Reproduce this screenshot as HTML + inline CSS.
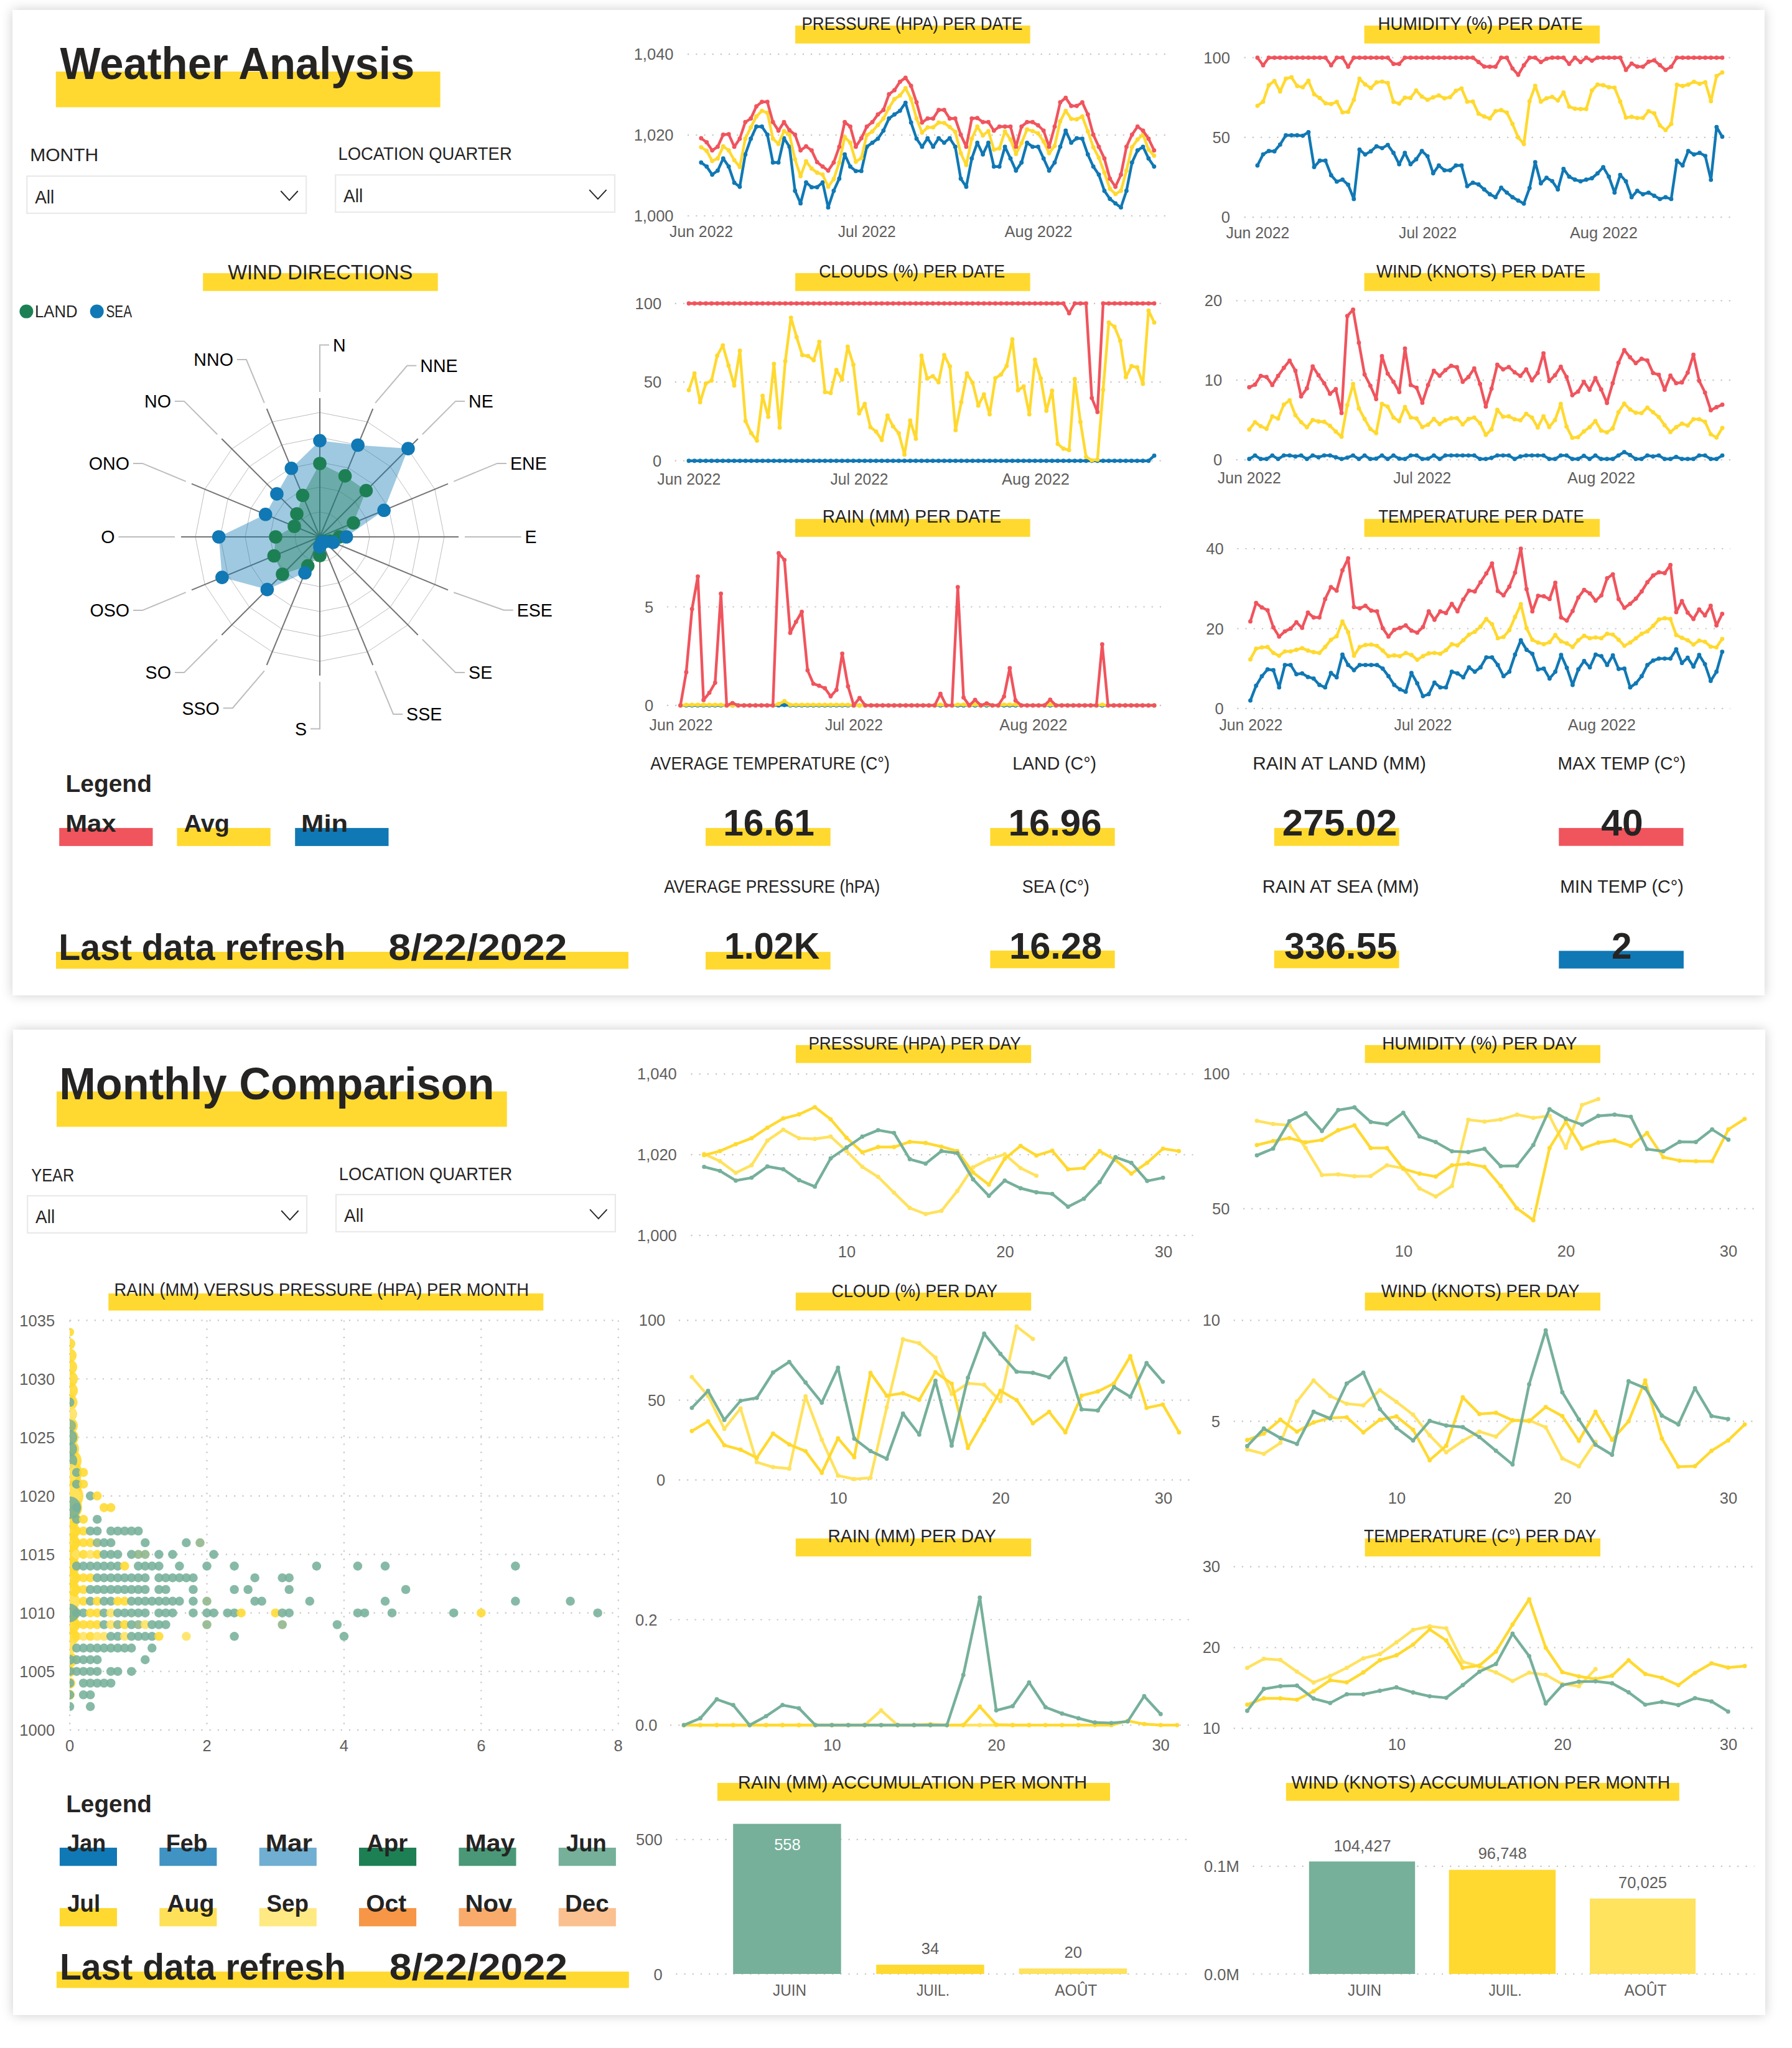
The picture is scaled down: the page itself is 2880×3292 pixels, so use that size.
<!DOCTYPE html>
<html><head><meta charset="utf-8"><title>Weather Analysis</title>
<style>
html,body{margin:0;padding:0;background:#fff;}
body{width:2880px;height:3292px;position:relative;overflow:hidden;font-family:"Liberation Sans",sans-serif;}
.card{position:absolute;background:#fff;box-shadow:0 0 18px rgba(0,0,0,.2);}
#c1{left:20px;top:16px;width:2816px;height:1584px;}
#c2{left:21px;top:1655px;width:2816px;height:1584px;}
svg{position:absolute;left:0;top:0;}
svg text{font-family:"Liberation Sans",sans-serif;}
.g{stroke:#C8C6C4;stroke-width:2.2;stroke-dasharray:2.2 11;fill:none;}
</style></head><body>
<div class="card" id="c1"></div><div class="card" id="c2"></div>
<svg width="2880" height="3292" viewBox="0 0 2880 3292">
<defs><clipPath id="scclip"><rect x="112.1" y="2100" width="900" height="700"/></clipPath></defs>
<rect x="89.8" y="115.0" width="617.8" height="57.4" fill="#FFD92F"/>
<text x="96.5" y="127.2" font-size="72.5" font-weight="bold" fill="#252423" textLength="569.7" lengthAdjust="spacingAndGlyphs">Weather Analysis</text>
<text x="48.2" y="259.1" font-size="29.4" font-weight="normal" fill="#252423" textLength="110.0" lengthAdjust="spacingAndGlyphs">MONTH</text>
<text x="543.4" y="257.4" font-size="30.1" font-weight="normal" fill="#252423" textLength="279.3" lengthAdjust="spacingAndGlyphs">LOCATION QUARTER</text>
<rect x="43.30" y="283.10" width="448.80" height="59.70" fill="#fff" stroke="#E9E9E9" stroke-width="2.2"/>
<text x="56.2" y="326.9" font-size="29.7" font-weight="normal" fill="#252423" textLength="31.1" lengthAdjust="spacingAndGlyphs">All</text>
<polyline points="451.3,307.0 465.0,321.8 478.7,307.0" fill="none" stroke="#252423" stroke-width="1.9"/>
<rect x="539.20" y="281.20" width="448.80" height="59.70" fill="#fff" stroke="#E9E9E9" stroke-width="2.2"/>
<text x="552.1" y="325.0" font-size="29.7" font-weight="normal" fill="#252423" textLength="31.1" lengthAdjust="spacingAndGlyphs">All</text>
<polyline points="947.2,305.1 960.9,319.9 974.6,305.1" fill="none" stroke="#252423" stroke-width="1.9"/>
<rect x="326.2" y="439.1" width="377.5" height="28.6" fill="#FFD92F"/>
<text x="366.3" y="448.8" font-size="33.3" font-weight="normal" fill="#252423" textLength="297.0" lengthAdjust="spacingAndGlyphs">WIND DIRECTIONS</text>
<circle cx="42.4" cy="500.6" r="11" fill="#1D8054"/><circle cx="155.7" cy="500.6" r="11" fill="#1078B4"/>
<text x="56.0" y="510.0" font-size="27.2" font-weight="normal" fill="#252423" textLength="68.5" lengthAdjust="spacingAndGlyphs">LAND</text>
<text x="170.5" y="510.0" font-size="27.2" font-weight="normal" fill="#252423" textLength="41.6" lengthAdjust="spacingAndGlyphs">SEA</text>
<polygon fill="none" stroke="#BDBDBD" stroke-width="1" points="514.0,823.0 529.3,826.0 542.3,834.7 551.0,847.7 554.0,863.0 551.0,878.3 542.3,891.3 529.3,900.0 514.0,903.0 498.7,900.0 485.7,891.3 477.0,878.3 474.0,863.0 477.0,847.7 485.7,834.7 498.7,826.0"/>
<polygon fill="none" stroke="#BDBDBD" stroke-width="1" points="514.0,783.0 544.6,789.1 570.6,806.4 587.9,832.4 594.0,863.0 587.9,893.6 570.6,919.6 544.6,936.9 514.0,943.0 483.4,936.9 457.4,919.6 440.1,893.6 434.0,863.0 440.1,832.4 457.4,806.4 483.4,789.1"/>
<polygon fill="none" stroke="#BDBDBD" stroke-width="1" points="514.0,743.0 559.9,752.1 598.9,778.1 624.9,817.1 634.0,863.0 624.9,908.9 598.9,947.9 559.9,973.9 514.0,983.0 468.1,973.9 429.1,947.9 403.1,908.9 394.0,863.0 403.1,817.1 429.1,778.1 468.1,752.1"/>
<polygon fill="none" stroke="#BDBDBD" stroke-width="1" points="514.0,703.0 575.2,715.2 627.1,749.9 661.8,801.8 674.0,863.0 661.8,924.2 627.1,976.1 575.2,1010.8 514.0,1023.0 452.8,1010.8 400.9,976.1 366.2,924.2 354.0,863.0 366.2,801.8 400.9,749.9 452.8,715.2"/>
<polygon fill="none" stroke="#BDBDBD" stroke-width="1" points="514.0,663.0 590.5,678.2 655.4,721.6 698.8,786.5 714.0,863.0 698.8,939.5 655.4,1004.4 590.5,1047.8 514.0,1063.0 437.5,1047.8 372.6,1004.4 329.2,939.5 314.0,863.0 329.2,786.5 372.6,721.6 437.5,678.2"/>
<line x1="514" y1="863" x2="514.0" y2="640.0" stroke="#747474" stroke-width="2"/>
<line x1="514" y1="863" x2="599.3" y2="657.0" stroke="#747474" stroke-width="2"/>
<line x1="514" y1="863" x2="671.7" y2="705.3" stroke="#747474" stroke-width="2"/>
<line x1="514" y1="863" x2="720.0" y2="777.7" stroke="#747474" stroke-width="2"/>
<line x1="514" y1="863" x2="737.0" y2="863.0" stroke="#747474" stroke-width="2"/>
<line x1="514" y1="863" x2="720.0" y2="948.3" stroke="#747474" stroke-width="2"/>
<line x1="514" y1="863" x2="671.7" y2="1020.7" stroke="#747474" stroke-width="2"/>
<line x1="514" y1="863" x2="599.3" y2="1069.0" stroke="#747474" stroke-width="2"/>
<line x1="514" y1="863" x2="514.0" y2="1086.0" stroke="#747474" stroke-width="2"/>
<line x1="514" y1="863" x2="428.7" y2="1069.0" stroke="#747474" stroke-width="2"/>
<line x1="514" y1="863" x2="356.3" y2="1020.7" stroke="#747474" stroke-width="2"/>
<line x1="514" y1="863" x2="308.0" y2="948.3" stroke="#747474" stroke-width="2"/>
<line x1="514" y1="863" x2="291.0" y2="863.0" stroke="#747474" stroke-width="2"/>
<line x1="514" y1="863" x2="308.0" y2="777.7" stroke="#747474" stroke-width="2"/>
<line x1="514" y1="863" x2="356.3" y2="705.3" stroke="#747474" stroke-width="2"/>
<line x1="514" y1="863" x2="428.7" y2="657.0" stroke="#747474" stroke-width="2"/>
<polyline fill="none" stroke="#BDBDBD" stroke-width="2" points="514.0,630.0 514.0,554.5 529.0,554.5"/>
<text x="535.0" y="564.8" font-size="28.6" fill="#000" text-anchor="start">N</text>
<polyline fill="none" stroke="#BDBDBD" stroke-width="2" points="603.2,647.7 654.3,587.8 669.3,587.8"/>
<text x="675.3" y="598.1" font-size="28.6" fill="#000" text-anchor="start">NNE</text>
<polyline fill="none" stroke="#BDBDBD" stroke-width="2" points="678.8,698.2 732.1,644.9 747.1,644.9"/>
<text x="753.1" y="655.2" font-size="28.6" fill="#000" text-anchor="start">NE</text>
<polyline fill="none" stroke="#BDBDBD" stroke-width="2" points="729.3,773.8 799.0,744.9 814.0,744.9"/>
<text x="820.0" y="755.2" font-size="28.6" fill="#000" text-anchor="start">ENE</text>
<polyline fill="none" stroke="#BDBDBD" stroke-width="2" points="747.0,863.0 822.5,863.0 837.5,863.0"/>
<text x="843.5" y="873.3" font-size="28.6" fill="#000" text-anchor="start">E</text>
<polyline fill="none" stroke="#BDBDBD" stroke-width="2" points="729.3,952.2 809.7,980.8 824.7,980.8"/>
<text x="830.7" y="991.1" font-size="28.6" fill="#000" text-anchor="start">ESE</text>
<polyline fill="none" stroke="#BDBDBD" stroke-width="2" points="678.8,1027.8 732.1,1081.1 747.1,1081.1"/>
<text x="753.1" y="1091.4" font-size="28.6" fill="#000" text-anchor="start">SE</text>
<polyline fill="none" stroke="#BDBDBD" stroke-width="2" points="603.2,1078.3 632.1,1148.0 647.1,1148.0"/>
<text x="653.1" y="1158.3" font-size="28.6" fill="#000" text-anchor="start">SSE</text>
<polyline fill="none" stroke="#BDBDBD" stroke-width="2" points="514.0,1096.0 514.0,1171.5 499.0,1171.5"/>
<text x="493.0" y="1181.8" font-size="28.6" fill="#000" text-anchor="end">S</text>
<polyline fill="none" stroke="#BDBDBD" stroke-width="2" points="424.8,1078.3 373.8,1138.2 358.8,1138.2"/>
<text x="352.8" y="1148.5" font-size="28.6" fill="#000" text-anchor="end">SSO</text>
<polyline fill="none" stroke="#BDBDBD" stroke-width="2" points="349.2,1027.8 295.9,1081.1 280.9,1081.1"/>
<text x="274.9" y="1091.4" font-size="28.6" fill="#000" text-anchor="end">SO</text>
<polyline fill="none" stroke="#BDBDBD" stroke-width="2" points="298.7,952.2 229.0,981.1 214.0,981.1"/>
<text x="208.0" y="991.4" font-size="28.6" fill="#000" text-anchor="end">OSO</text>
<polyline fill="none" stroke="#BDBDBD" stroke-width="2" points="281.0,863.0 205.5,863.0 190.5,863.0"/>
<text x="184.5" y="873.3" font-size="28.6" fill="#000" text-anchor="end">O</text>
<polyline fill="none" stroke="#BDBDBD" stroke-width="2" points="298.7,773.8 229.0,744.9 214.0,744.9"/>
<text x="208.0" y="755.2" font-size="28.6" fill="#000" text-anchor="end">ONO</text>
<polyline fill="none" stroke="#BDBDBD" stroke-width="2" points="349.2,698.2 295.9,644.9 280.9,644.9"/>
<text x="274.9" y="655.2" font-size="28.6" fill="#000" text-anchor="end">NO</text>
<polyline fill="none" stroke="#BDBDBD" stroke-width="2" points="424.8,647.7 395.9,578.0 380.9,578.0"/>
<text x="374.9" y="588.3" font-size="28.6" fill="#000" text-anchor="end">NNO</text>
<polygon fill="#1078B4" fill-opacity=".4" points="514.0,708.3 575.1,715.5 655.9,721.1 617.1,820.3 556.7,863.0 535.5,871.9 521.8,870.8 517.4,871.3 514.0,878.7 490.0,920.8 429.4,947.6 356.9,928.1 351.7,863.0 426.7,826.8 444.9,793.9 468.3,752.8"/>
<polygon fill="#1D8054" fill-opacity=".4" points="514.0,745.0 554.6,764.9 588.4,788.6 568.0,840.6 545.4,863.0 530.6,869.9 521.1,870.1 517.1,870.4 514.0,893.0 494.7,909.6 454.0,923.0 440.4,893.5 443.0,863.0 473.0,846.0 477.0,826.0 486.4,796.3"/>
<circle cx="514.0" cy="745.0" r="10.8" fill="#1D8054"/>
<circle cx="554.6" cy="764.9" r="10.8" fill="#1D8054"/>
<circle cx="588.4" cy="788.6" r="10.8" fill="#1D8054"/>
<circle cx="568.0" cy="840.6" r="10.8" fill="#1D8054"/>
<circle cx="545.4" cy="863.0" r="10.8" fill="#1D8054"/>
<circle cx="530.6" cy="869.9" r="10.8" fill="#1D8054"/>
<circle cx="521.1" cy="870.1" r="10.8" fill="#1D8054"/>
<circle cx="517.1" cy="870.4" r="10.8" fill="#1D8054"/>
<circle cx="514.0" cy="893.0" r="10.8" fill="#1D8054"/>
<circle cx="494.7" cy="909.6" r="10.8" fill="#1D8054"/>
<circle cx="454.0" cy="923.0" r="10.8" fill="#1D8054"/>
<circle cx="440.4" cy="893.5" r="10.8" fill="#1D8054"/>
<circle cx="443.0" cy="863.0" r="10.8" fill="#1D8054"/>
<circle cx="473.0" cy="846.0" r="10.8" fill="#1D8054"/>
<circle cx="477.0" cy="826.0" r="10.8" fill="#1D8054"/>
<circle cx="486.4" cy="796.3" r="10.8" fill="#1D8054"/>
<circle cx="514.0" cy="708.3" r="10.8" fill="#1078B4"/>
<circle cx="575.1" cy="715.5" r="10.8" fill="#1078B4"/>
<circle cx="655.9" cy="721.1" r="10.8" fill="#1078B4"/>
<circle cx="617.1" cy="820.3" r="10.8" fill="#1078B4"/>
<circle cx="556.7" cy="863.0" r="10.8" fill="#1078B4"/>
<circle cx="535.5" cy="871.9" r="10.8" fill="#1078B4"/>
<circle cx="521.8" cy="870.8" r="10.8" fill="#1078B4"/>
<circle cx="517.4" cy="871.3" r="10.8" fill="#1078B4"/>
<circle cx="514.0" cy="878.7" r="10.8" fill="#1078B4"/>
<circle cx="490.0" cy="920.8" r="10.8" fill="#1078B4"/>
<circle cx="429.4" cy="947.6" r="10.8" fill="#1078B4"/>
<circle cx="356.9" cy="928.1" r="10.8" fill="#1078B4"/>
<circle cx="351.7" cy="863.0" r="10.8" fill="#1078B4"/>
<circle cx="426.7" cy="826.8" r="10.8" fill="#1078B4"/>
<circle cx="444.9" cy="793.9" r="10.8" fill="#1078B4"/>
<circle cx="468.3" cy="752.8" r="10.8" fill="#1078B4"/>
<text x="105.4" y="1272.9" font-size="39.5" font-weight="bold" fill="#252423" textLength="138.6" lengthAdjust="spacingAndGlyphs">Legend</text>
<rect x="95.2" y="1330.9" width="150.3" height="29.0" fill="#F0545D"/>
<rect x="284.4" y="1330.9" width="150.3" height="29.0" fill="#FFD92F"/>
<rect x="474.2" y="1330.9" width="150.3" height="29.0" fill="#1078B4"/>
<text x="105.2" y="1336.7" font-size="39.5" font-weight="bold" fill="#252423" textLength="81.4" lengthAdjust="spacingAndGlyphs">Max</text>
<text x="295.6" y="1336.7" font-size="39.5" font-weight="bold" fill="#252423" textLength="73.2" lengthAdjust="spacingAndGlyphs">Avg</text>
<text x="484.1" y="1336.7" font-size="39.5" font-weight="bold" fill="#252423" textLength="75.2" lengthAdjust="spacingAndGlyphs">Min</text>
<rect x="90.0" y="1530.0" width="920.0" height="27.2" fill="#FFD92F"/>
<text x="94.3" y="1542.7" font-size="59.9" font-weight="bold" fill="#252423" textLength="461.2" lengthAdjust="spacingAndGlyphs">Last data refresh</text>
<text x="624.3" y="1542.7" font-size="59.9" font-weight="bold" fill="#252423" textLength="287.2" lengthAdjust="spacingAndGlyphs">8/22/2022</text>
<line x1="1105.0" y1="87.2" x2="1873.8" y2="87.2" class="g"/>
<text x="1082.5" y="96.2" font-size="25.5" font-weight="normal" fill="#605E5C" text-anchor="end">1,040</text>
<line x1="1105.0" y1="217.1" x2="1873.8" y2="217.1" class="g"/>
<text x="1082.5" y="226.1" font-size="25.5" font-weight="normal" fill="#605E5C" text-anchor="end">1,020</text>
<line x1="1105.0" y1="347.0" x2="1873.8" y2="347.0" class="g"/>
<text x="1082.5" y="356.0" font-size="25.5" font-weight="normal" fill="#605E5C" text-anchor="end">1,000</text>
<text x="1127.0" y="380.8" font-size="25.5" font-weight="normal" fill="#605E5C" text-anchor="middle" textLength="102.0" lengthAdjust="spacingAndGlyphs">Jun 2022</text>
<text x="1393.3" y="380.8" font-size="25.5" font-weight="normal" fill="#605E5C" text-anchor="middle" textLength="93.0" lengthAdjust="spacingAndGlyphs">Jul 2022</text>
<text x="1669.0" y="380.8" font-size="25.5" font-weight="normal" fill="#605E5C" text-anchor="middle" textLength="109.0" lengthAdjust="spacingAndGlyphs">Aug 2022</text>
<polyline fill="none" stroke="#1078B4" stroke-width="4.4" stroke-linejoin="round" stroke-linecap="round" points="1126.8,261.3 1135.7,267.8 1144.6,280.8 1153.4,274.3 1162.3,254.8 1171.2,267.8 1180.1,293.7 1188.9,300.2 1197.8,248.3 1206.7,222.9 1215.6,203.5 1224.5,203.5 1233.3,216.5 1242.2,261.3 1251.1,261.3 1260.0,222.3 1268.8,235.9 1277.7,306.7 1286.6,326.9 1295.5,293.1 1304.4,300.9 1313.2,300.9 1322.1,293.1 1331.0,333.4 1339.9,306.7 1348.8,287.2 1357.6,248.3 1366.5,267.8 1375.4,274.9 1384.3,274.9 1393.1,235.9 1402.0,229.4 1410.9,222.9 1419.8,210.0 1428.7,190.5 1437.5,184.0 1446.4,178.1 1455.3,165.1 1464.2,197.0 1473.0,222.9 1481.9,235.9 1490.8,222.3 1499.7,235.9 1508.6,222.3 1517.4,229.4 1526.3,222.3 1535.2,235.9 1544.1,287.2 1552.9,300.2 1561.8,254.8 1570.7,229.4 1579.6,248.3 1588.5,229.4 1597.3,267.8 1606.2,267.8 1615.1,235.9 1624.0,254.8 1632.8,274.3 1641.7,261.3 1650.6,229.4 1659.5,235.9 1668.4,235.9 1677.2,254.8 1686.1,274.3 1695.0,261.3 1703.9,235.9 1712.7,210.0 1721.6,229.4 1730.5,222.3 1739.4,222.9 1748.3,248.3 1757.1,267.8 1766.0,280.8 1774.9,306.7 1783.8,319.7 1792.7,326.9 1801.5,333.4 1810.4,306.7 1819.3,261.3 1828.2,241.8 1837.0,235.9 1845.9,254.8 1854.8,267.8"/>
<path d="M1126.8 261.3h0M1135.7 267.8h0M1144.6 280.8h0M1153.4 274.3h0M1162.3 254.8h0M1171.2 267.8h0M1180.1 293.7h0M1188.9 300.2h0M1197.8 248.3h0M1206.7 222.9h0M1215.6 203.5h0M1224.5 203.5h0M1233.3 216.5h0M1242.2 261.3h0M1251.1 261.3h0M1260.0 222.3h0M1268.8 235.9h0M1277.7 306.7h0M1286.6 326.9h0M1295.5 293.1h0M1304.4 300.9h0M1313.2 300.9h0M1322.1 293.1h0M1331.0 333.4h0M1339.9 306.7h0M1348.8 287.2h0M1357.6 248.3h0M1366.5 267.8h0M1375.4 274.9h0M1384.3 274.9h0M1393.1 235.9h0M1402.0 229.4h0M1410.9 222.9h0M1419.8 210.0h0M1428.7 190.5h0M1437.5 184.0h0M1446.4 178.1h0M1455.3 165.1h0M1464.2 197.0h0M1473.0 222.9h0M1481.9 235.9h0M1490.8 222.3h0M1499.7 235.9h0M1508.6 222.3h0M1517.4 229.4h0M1526.3 222.3h0M1535.2 235.9h0M1544.1 287.2h0M1552.9 300.2h0M1561.8 254.8h0M1570.7 229.4h0M1579.6 248.3h0M1588.5 229.4h0M1597.3 267.8h0M1606.2 267.8h0M1615.1 235.9h0M1624.0 254.8h0M1632.8 274.3h0M1641.7 261.3h0M1650.6 229.4h0M1659.5 235.9h0M1668.4 235.9h0M1677.2 254.8h0M1686.1 274.3h0M1695.0 261.3h0M1703.9 235.9h0M1712.7 210.0h0M1721.6 229.4h0M1730.5 222.3h0M1739.4 222.9h0M1748.3 248.3h0M1757.1 267.8h0M1766.0 280.8h0M1774.9 306.7h0M1783.8 319.7h0M1792.7 326.9h0M1801.5 333.4h0M1810.4 306.7h0M1819.3 261.3h0M1828.2 241.8h0M1837.0 235.9h0M1845.9 254.8h0M1854.8 267.8h0" stroke="#1078B4" stroke-width="6.9" stroke-linecap="round" fill="none"/>
<polyline fill="none" stroke="#FFD92F" stroke-width="4.4" stroke-linejoin="round" stroke-linecap="round" points="1126.8,236.6 1135.7,242.4 1144.6,258.7 1153.4,254.8 1162.3,235.3 1171.2,241.8 1180.1,257.4 1188.9,268.4 1197.8,222.9 1206.7,204.8 1215.6,187.2 1224.5,178.1 1233.3,181.4 1242.2,222.9 1251.1,231.4 1260.0,210.6 1268.8,216.5 1277.7,256.1 1286.6,283.3 1295.5,259.3 1304.4,271.0 1313.2,277.5 1322.1,280.8 1331.0,300.2 1339.9,287.9 1348.8,261.3 1357.6,220.3 1366.5,229.4 1375.4,260.0 1384.3,254.1 1393.1,217.1 1402.0,211.3 1410.9,200.9 1419.8,190.5 1428.7,173.6 1437.5,159.3 1446.4,153.4 1455.3,141.8 1464.2,159.3 1473.0,190.5 1481.9,213.2 1490.8,204.8 1499.7,204.8 1508.6,197.0 1517.4,197.6 1526.3,204.1 1535.2,211.9 1544.1,246.3 1552.9,265.2 1561.8,222.9 1570.7,203.5 1579.6,217.7 1588.5,210.6 1597.3,240.5 1606.2,238.5 1615.1,211.3 1624.0,224.2 1632.8,247.6 1641.7,230.1 1650.6,208.0 1659.5,210.6 1668.4,214.5 1677.2,227.5 1686.1,246.3 1695.0,234.6 1703.9,195.0 1712.7,178.1 1721.6,191.1 1730.5,191.8 1739.4,187.2 1748.3,211.3 1757.1,236.6 1766.0,253.5 1774.9,277.5 1783.8,303.5 1792.7,311.9 1801.5,306.7 1810.4,274.3 1819.3,236.6 1828.2,224.2 1837.0,216.5 1845.9,240.5 1854.8,250.2"/>
<path d="M1126.8 236.6h0M1135.7 242.4h0M1144.6 258.7h0M1153.4 254.8h0M1162.3 235.3h0M1171.2 241.8h0M1180.1 257.4h0M1188.9 268.4h0M1197.8 222.9h0M1206.7 204.8h0M1215.6 187.2h0M1224.5 178.1h0M1233.3 181.4h0M1242.2 222.9h0M1251.1 231.4h0M1260.0 210.6h0M1268.8 216.5h0M1277.7 256.1h0M1286.6 283.3h0M1295.5 259.3h0M1304.4 271.0h0M1313.2 277.5h0M1322.1 280.8h0M1331.0 300.2h0M1339.9 287.9h0M1348.8 261.3h0M1357.6 220.3h0M1366.5 229.4h0M1375.4 260.0h0M1384.3 254.1h0M1393.1 217.1h0M1402.0 211.3h0M1410.9 200.9h0M1419.8 190.5h0M1428.7 173.6h0M1437.5 159.3h0M1446.4 153.4h0M1455.3 141.8h0M1464.2 159.3h0M1473.0 190.5h0M1481.9 213.2h0M1490.8 204.8h0M1499.7 204.8h0M1508.6 197.0h0M1517.4 197.6h0M1526.3 204.1h0M1535.2 211.9h0M1544.1 246.3h0M1552.9 265.2h0M1561.8 222.9h0M1570.7 203.5h0M1579.6 217.7h0M1588.5 210.6h0M1597.3 240.5h0M1606.2 238.5h0M1615.1 211.3h0M1624.0 224.2h0M1632.8 247.6h0M1641.7 230.1h0M1650.6 208.0h0M1659.5 210.6h0M1668.4 214.5h0M1677.2 227.5h0M1686.1 246.3h0M1695.0 234.6h0M1703.9 195.0h0M1712.7 178.1h0M1721.6 191.1h0M1730.5 191.8h0M1739.4 187.2h0M1748.3 211.3h0M1757.1 236.6h0M1766.0 253.5h0M1774.9 277.5h0M1783.8 303.5h0M1792.7 311.9h0M1801.5 306.7h0M1810.4 274.3h0M1819.3 236.6h0M1828.2 224.2h0M1837.0 216.5h0M1845.9 240.5h0M1854.8 250.2h0" stroke="#FFD92F" stroke-width="6.9" stroke-linecap="round" fill="none"/>
<polyline fill="none" stroke="#F0545D" stroke-width="4.4" stroke-linejoin="round" stroke-linecap="round" points="1126.8,222.3 1135.7,228.8 1144.6,241.8 1153.4,235.9 1162.3,216.5 1171.2,215.8 1180.1,235.9 1188.9,222.9 1197.8,196.3 1206.7,190.5 1215.6,171.0 1224.5,163.8 1233.3,163.8 1242.2,196.3 1251.1,210.0 1260.0,196.3 1268.8,209.3 1277.7,216.5 1286.6,241.8 1295.5,235.3 1304.4,241.8 1313.2,260.6 1322.1,267.8 1331.0,274.3 1339.9,261.3 1348.8,235.9 1357.6,196.3 1366.5,203.5 1375.4,235.9 1384.3,222.3 1393.1,203.5 1402.0,196.3 1410.9,184.0 1419.8,176.8 1428.7,151.5 1437.5,145.0 1446.4,131.4 1455.3,124.9 1464.2,137.9 1473.0,164.5 1481.9,197.0 1490.8,190.5 1499.7,190.5 1508.6,176.8 1517.4,176.8 1526.3,190.5 1535.2,190.5 1544.1,216.5 1552.9,235.9 1561.8,190.5 1570.7,189.8 1579.6,196.3 1588.5,196.3 1597.3,210.0 1606.2,203.5 1615.1,203.5 1624.0,203.5 1632.8,235.9 1641.7,203.5 1650.6,196.3 1659.5,196.3 1668.4,201.5 1677.2,210.0 1686.1,235.9 1695.0,203.5 1703.9,164.5 1712.7,157.3 1721.6,170.3 1730.5,170.3 1739.4,164.5 1748.3,184.0 1757.1,216.5 1766.0,235.9 1774.9,254.8 1783.8,287.2 1792.7,300.2 1801.5,280.8 1810.4,235.9 1819.3,216.5 1828.2,203.5 1837.0,210.0 1845.9,222.9 1854.8,241.8"/>
<path d="M1126.8 222.3h0M1135.7 228.8h0M1144.6 241.8h0M1153.4 235.9h0M1162.3 216.5h0M1171.2 215.8h0M1180.1 235.9h0M1188.9 222.9h0M1197.8 196.3h0M1206.7 190.5h0M1215.6 171.0h0M1224.5 163.8h0M1233.3 163.8h0M1242.2 196.3h0M1251.1 210.0h0M1260.0 196.3h0M1268.8 209.3h0M1277.7 216.5h0M1286.6 241.8h0M1295.5 235.3h0M1304.4 241.8h0M1313.2 260.6h0M1322.1 267.8h0M1331.0 274.3h0M1339.9 261.3h0M1348.8 235.9h0M1357.6 196.3h0M1366.5 203.5h0M1375.4 235.9h0M1384.3 222.3h0M1393.1 203.5h0M1402.0 196.3h0M1410.9 184.0h0M1419.8 176.8h0M1428.7 151.5h0M1437.5 145.0h0M1446.4 131.4h0M1455.3 124.9h0M1464.2 137.9h0M1473.0 164.5h0M1481.9 197.0h0M1490.8 190.5h0M1499.7 190.5h0M1508.6 176.8h0M1517.4 176.8h0M1526.3 190.5h0M1535.2 190.5h0M1544.1 216.5h0M1552.9 235.9h0M1561.8 190.5h0M1570.7 189.8h0M1579.6 196.3h0M1588.5 196.3h0M1597.3 210.0h0M1606.2 203.5h0M1615.1 203.5h0M1624.0 203.5h0M1632.8 235.9h0M1641.7 203.5h0M1650.6 196.3h0M1659.5 196.3h0M1668.4 201.5h0M1677.2 210.0h0M1686.1 235.9h0M1695.0 203.5h0M1703.9 164.5h0M1712.7 157.3h0M1721.6 170.3h0M1730.5 170.3h0M1739.4 164.5h0M1748.3 184.0h0M1757.1 216.5h0M1766.0 235.9h0M1774.9 254.8h0M1783.8 287.2h0M1792.7 300.2h0M1801.5 280.8h0M1810.4 235.9h0M1819.3 216.5h0M1828.2 203.5h0M1837.0 210.0h0M1845.9 222.9h0M1854.8 241.8h0" stroke="#F0545D" stroke-width="6.9" stroke-linecap="round" fill="none"/>
<rect x="1278.1" y="41.1" width="377.5" height="28.8" fill="#FFD92F"/>
<text x="1288.5" y="47.9" font-size="28.8" font-weight="normal" fill="#252423" textLength="354.8" lengthAdjust="spacingAndGlyphs">PRESSURE (HPA) PER DATE</text>
<line x1="1999.6" y1="92.7" x2="2781.0" y2="92.7" class="g"/>
<text x="1976.9" y="101.7" font-size="25.5" font-weight="normal" fill="#605E5C" text-anchor="end">100</text>
<line x1="1999.6" y1="220.9" x2="2781.0" y2="220.9" class="g"/>
<text x="1976.9" y="229.9" font-size="25.5" font-weight="normal" fill="#605E5C" text-anchor="end">50</text>
<line x1="1999.6" y1="349.1" x2="2781.0" y2="349.1" class="g"/>
<text x="1976.9" y="358.1" font-size="25.5" font-weight="normal" fill="#605E5C" text-anchor="end">0</text>
<text x="2021.4" y="382.8" font-size="25.5" font-weight="normal" fill="#605E5C" text-anchor="middle" textLength="102.0" lengthAdjust="spacingAndGlyphs">Jun 2022</text>
<text x="2294.6" y="382.8" font-size="25.5" font-weight="normal" fill="#605E5C" text-anchor="middle" textLength="93.0" lengthAdjust="spacingAndGlyphs">Jul 2022</text>
<text x="2577.4" y="382.8" font-size="25.5" font-weight="normal" fill="#605E5C" text-anchor="middle" textLength="109.0" lengthAdjust="spacingAndGlyphs">Aug 2022</text>
<polyline fill="none" stroke="#1078B4" stroke-width="4.4" stroke-linejoin="round" stroke-linecap="round" points="2020.9,266.0 2030.0,248.1 2039.1,242.7 2048.2,243.2 2057.3,232.4 2066.5,217.5 2075.6,217.5 2084.7,217.5 2093.8,218.1 2102.9,212.4 2112.0,268.6 2121.1,258.3 2130.2,258.3 2139.3,281.7 2148.4,291.9 2157.6,288.8 2166.7,297.0 2175.8,319.9 2184.9,240.4 2194.0,248.3 2203.1,243.2 2212.2,235.2 2221.3,238.1 2230.4,232.9 2239.5,245.8 2248.7,264.0 2257.8,245.8 2266.9,264.0 2276.0,256.0 2285.1,242.7 2294.2,251.1 2303.3,278.6 2312.4,266.0 2321.5,273.7 2330.6,273.7 2339.8,266.0 2348.9,266.0 2358.0,299.3 2367.1,293.7 2376.2,296.5 2385.3,304.5 2394.4,312.2 2403.5,317.0 2412.6,301.7 2421.7,309.6 2430.8,317.0 2440.0,322.4 2449.1,327.3 2458.2,302.2 2467.3,260.6 2476.4,294.7 2485.5,285.8 2494.6,291.1 2503.7,304.5 2512.8,271.4 2521.9,284.0 2531.1,288.8 2540.2,291.4 2549.3,288.8 2558.4,286.5 2567.5,278.8 2576.6,268.6 2585.7,284.0 2594.8,309.6 2603.9,281.1 2613.1,291.4 2622.2,317.0 2631.3,306.8 2640.4,312.2 2649.5,309.6 2658.6,314.7 2667.7,319.9 2676.8,317.0 2685.9,319.9 2695.0,258.3 2704.2,266.0 2713.3,242.7 2722.4,248.3 2731.5,245.8 2740.6,250.6 2749.7,289.1 2758.8,204.2 2767.9,219.8"/>
<path d="M2020.9 266.0h0M2030.0 248.1h0M2039.1 242.7h0M2048.2 243.2h0M2057.3 232.4h0M2066.5 217.5h0M2075.6 217.5h0M2084.7 217.5h0M2093.8 218.1h0M2102.9 212.4h0M2112.0 268.6h0M2121.1 258.3h0M2130.2 258.3h0M2139.3 281.7h0M2148.4 291.9h0M2157.6 288.8h0M2166.7 297.0h0M2175.8 319.9h0M2184.9 240.4h0M2194.0 248.3h0M2203.1 243.2h0M2212.2 235.2h0M2221.3 238.1h0M2230.4 232.9h0M2239.5 245.8h0M2248.7 264.0h0M2257.8 245.8h0M2266.9 264.0h0M2276.0 256.0h0M2285.1 242.7h0M2294.2 251.1h0M2303.3 278.6h0M2312.4 266.0h0M2321.5 273.7h0M2330.6 273.7h0M2339.8 266.0h0M2348.9 266.0h0M2358.0 299.3h0M2367.1 293.7h0M2376.2 296.5h0M2385.3 304.5h0M2394.4 312.2h0M2403.5 317.0h0M2412.6 301.7h0M2421.7 309.6h0M2430.8 317.0h0M2440.0 322.4h0M2449.1 327.3h0M2458.2 302.2h0M2467.3 260.6h0M2476.4 294.7h0M2485.5 285.8h0M2494.6 291.1h0M2503.7 304.5h0M2512.8 271.4h0M2521.9 284.0h0M2531.1 288.8h0M2540.2 291.4h0M2549.3 288.8h0M2558.4 286.5h0M2567.5 278.8h0M2576.6 268.6h0M2585.7 284.0h0M2594.8 309.6h0M2603.9 281.1h0M2613.1 291.4h0M2622.2 317.0h0M2631.3 306.8h0M2640.4 312.2h0M2649.5 309.6h0M2658.6 314.7h0M2667.7 319.9h0M2676.8 317.0h0M2685.9 319.9h0M2695.0 258.3h0M2704.2 266.0h0M2713.3 242.7h0M2722.4 248.3h0M2731.5 245.8h0M2740.6 250.6h0M2749.7 289.1h0M2758.8 204.2h0M2767.9 219.8h0" stroke="#1078B4" stroke-width="6.9" stroke-linecap="round" fill="none"/>
<polyline fill="none" stroke="#FFD92F" stroke-width="4.4" stroke-linejoin="round" stroke-linecap="round" points="2020.9,170.1 2030.0,163.4 2039.1,137.0 2048.2,130.1 2057.3,147.0 2066.5,126.5 2075.6,124.2 2084.7,138.3 2093.8,140.3 2102.9,129.8 2112.0,151.6 2121.1,157.5 2130.2,166.0 2139.3,167.3 2148.4,163.7 2157.6,180.6 2166.7,179.8 2175.8,160.4 2184.9,126.5 2194.0,135.7 2203.1,141.4 2212.2,132.4 2221.3,131.1 2230.4,133.4 2239.5,163.7 2248.7,166.5 2257.8,157.0 2266.9,157.5 2276.0,145.5 2285.1,155.2 2294.2,160.4 2303.3,156.5 2312.4,153.4 2321.5,158.0 2330.6,156.2 2339.8,146.0 2348.9,142.1 2358.0,163.4 2367.1,163.2 2376.2,182.7 2385.3,187.3 2394.4,190.4 2403.5,178.6 2412.6,177.0 2421.7,180.9 2430.8,199.3 2440.0,220.9 2449.1,231.6 2458.2,162.7 2467.3,138.0 2476.4,163.4 2485.5,158.0 2494.6,155.7 2503.7,161.6 2512.8,148.8 2521.9,171.4 2531.1,174.7 2540.2,175.2 2549.3,175.2 2558.4,145.5 2567.5,136.0 2576.6,137.0 2585.7,140.3 2594.8,140.9 2603.9,163.2 2613.1,189.1 2622.2,187.8 2631.3,189.6 2640.4,189.6 2649.5,178.6 2658.6,182.2 2667.7,201.6 2676.8,209.1 2685.9,199.3 2695.0,136.2 2704.2,138.3 2713.3,136.0 2722.4,131.4 2731.5,134.7 2740.6,132.1 2749.7,162.7 2758.8,122.1 2767.9,116.5"/>
<path d="M2020.9 170.1h0M2030.0 163.4h0M2039.1 137.0h0M2048.2 130.1h0M2057.3 147.0h0M2066.5 126.5h0M2075.6 124.2h0M2084.7 138.3h0M2093.8 140.3h0M2102.9 129.8h0M2112.0 151.6h0M2121.1 157.5h0M2130.2 166.0h0M2139.3 167.3h0M2148.4 163.7h0M2157.6 180.6h0M2166.7 179.8h0M2175.8 160.4h0M2184.9 126.5h0M2194.0 135.7h0M2203.1 141.4h0M2212.2 132.4h0M2221.3 131.1h0M2230.4 133.4h0M2239.5 163.7h0M2248.7 166.5h0M2257.8 157.0h0M2266.9 157.5h0M2276.0 145.5h0M2285.1 155.2h0M2294.2 160.4h0M2303.3 156.5h0M2312.4 153.4h0M2321.5 158.0h0M2330.6 156.2h0M2339.8 146.0h0M2348.9 142.1h0M2358.0 163.4h0M2367.1 163.2h0M2376.2 182.7h0M2385.3 187.3h0M2394.4 190.4h0M2403.5 178.6h0M2412.6 177.0h0M2421.7 180.9h0M2430.8 199.3h0M2440.0 220.9h0M2449.1 231.6h0M2458.2 162.7h0M2467.3 138.0h0M2476.4 163.4h0M2485.5 158.0h0M2494.6 155.7h0M2503.7 161.6h0M2512.8 148.8h0M2521.9 171.4h0M2531.1 174.7h0M2540.2 175.2h0M2549.3 175.2h0M2558.4 145.5h0M2567.5 136.0h0M2576.6 137.0h0M2585.7 140.3h0M2594.8 140.9h0M2603.9 163.2h0M2613.1 189.1h0M2622.2 187.8h0M2631.3 189.6h0M2640.4 189.6h0M2649.5 178.6h0M2658.6 182.2h0M2667.7 201.6h0M2676.8 209.1h0M2685.9 199.3h0M2695.0 136.2h0M2704.2 138.3h0M2713.3 136.0h0M2722.4 131.4h0M2731.5 134.7h0M2740.6 132.1h0M2749.7 162.7h0M2758.8 122.1h0M2767.9 116.5h0" stroke="#FFD92F" stroke-width="6.9" stroke-linecap="round" fill="none"/>
<polyline fill="none" stroke="#F0545D" stroke-width="4.4" stroke-linejoin="round" stroke-linecap="round" points="2020.9,92.7 2030.0,105.0 2039.1,92.7 2048.2,92.7 2057.3,92.7 2066.5,92.7 2075.6,92.7 2084.7,92.7 2093.8,92.7 2102.9,92.7 2112.0,92.7 2121.1,92.7 2130.2,92.7 2139.3,105.0 2148.4,92.7 2157.6,92.7 2166.7,107.3 2175.8,92.7 2184.9,92.7 2194.0,92.7 2203.1,92.7 2212.2,92.7 2221.3,92.7 2230.4,92.7 2239.5,102.7 2248.7,102.7 2257.8,92.7 2266.9,92.7 2276.0,92.7 2285.1,92.7 2294.2,92.7 2303.3,92.7 2312.4,92.7 2321.5,92.7 2330.6,92.7 2339.8,92.7 2348.9,92.7 2358.0,92.7 2367.1,92.7 2376.2,99.8 2385.3,107.0 2394.4,107.3 2403.5,107.3 2412.6,92.7 2421.7,92.7 2430.8,110.1 2440.0,120.3 2449.1,105.0 2458.2,92.7 2467.3,92.7 2476.4,99.8 2485.5,94.4 2494.6,92.7 2503.7,92.7 2512.8,92.7 2521.9,102.7 2531.1,92.7 2540.2,99.8 2549.3,92.7 2558.4,97.5 2567.5,92.7 2576.6,92.7 2585.7,92.7 2594.8,92.7 2603.9,92.7 2613.1,112.4 2622.2,102.1 2631.3,107.0 2640.4,107.3 2649.5,99.3 2658.6,97.0 2667.7,104.7 2676.8,112.4 2685.9,107.3 2695.0,92.7 2704.2,92.7 2713.3,92.7 2722.4,92.7 2731.5,92.7 2740.6,92.7 2749.7,92.7 2758.8,92.7 2767.9,92.7"/>
<path d="M2020.9 92.7h0M2030.0 105.0h0M2039.1 92.7h0M2048.2 92.7h0M2057.3 92.7h0M2066.5 92.7h0M2075.6 92.7h0M2084.7 92.7h0M2093.8 92.7h0M2102.9 92.7h0M2112.0 92.7h0M2121.1 92.7h0M2130.2 92.7h0M2139.3 105.0h0M2148.4 92.7h0M2157.6 92.7h0M2166.7 107.3h0M2175.8 92.7h0M2184.9 92.7h0M2194.0 92.7h0M2203.1 92.7h0M2212.2 92.7h0M2221.3 92.7h0M2230.4 92.7h0M2239.5 102.7h0M2248.7 102.7h0M2257.8 92.7h0M2266.9 92.7h0M2276.0 92.7h0M2285.1 92.7h0M2294.2 92.7h0M2303.3 92.7h0M2312.4 92.7h0M2321.5 92.7h0M2330.6 92.7h0M2339.8 92.7h0M2348.9 92.7h0M2358.0 92.7h0M2367.1 92.7h0M2376.2 99.8h0M2385.3 107.0h0M2394.4 107.3h0M2403.5 107.3h0M2412.6 92.7h0M2421.7 92.7h0M2430.8 110.1h0M2440.0 120.3h0M2449.1 105.0h0M2458.2 92.7h0M2467.3 92.7h0M2476.4 99.8h0M2485.5 94.4h0M2494.6 92.7h0M2503.7 92.7h0M2512.8 92.7h0M2521.9 102.7h0M2531.1 92.7h0M2540.2 99.8h0M2549.3 92.7h0M2558.4 97.5h0M2567.5 92.7h0M2576.6 92.7h0M2585.7 92.7h0M2594.8 92.7h0M2603.9 92.7h0M2613.1 112.4h0M2622.2 102.1h0M2631.3 107.0h0M2640.4 107.3h0M2649.5 99.3h0M2658.6 97.0h0M2667.7 104.7h0M2676.8 112.4h0M2685.9 107.3h0M2695.0 92.7h0M2704.2 92.7h0M2713.3 92.7h0M2722.4 92.7h0M2731.5 92.7h0M2740.6 92.7h0M2749.7 92.7h0M2758.8 92.7h0M2767.9 92.7h0" stroke="#F0545D" stroke-width="6.9" stroke-linecap="round" fill="none"/>
<rect x="2192.6" y="41.1" width="378.4" height="28.8" fill="#FFD92F"/>
<text x="2214.5" y="47.9" font-size="28.8" font-weight="normal" fill="#252423" textLength="329.3" lengthAdjust="spacingAndGlyphs">HUMIDITY (%) PER DATE</text>
<line x1="1084.7" y1="487.8" x2="1867.6" y2="487.8" class="g"/>
<text x="1063.1" y="496.8" font-size="25.5" font-weight="normal" fill="#605E5C" text-anchor="end">100</text>
<line x1="1084.7" y1="614.2" x2="1867.6" y2="614.2" class="g"/>
<text x="1063.1" y="623.2" font-size="25.5" font-weight="normal" fill="#605E5C" text-anchor="end">50</text>
<line x1="1084.7" y1="740.7" x2="1867.6" y2="740.7" class="g"/>
<text x="1063.1" y="749.7" font-size="25.5" font-weight="normal" fill="#605E5C" text-anchor="end">0</text>
<text x="1107.3" y="778.6" font-size="25.5" font-weight="normal" fill="#605E5C" text-anchor="middle" textLength="102.0" lengthAdjust="spacingAndGlyphs">Jun 2022</text>
<text x="1381.0" y="778.6" font-size="25.5" font-weight="normal" fill="#605E5C" text-anchor="middle" textLength="93.0" lengthAdjust="spacingAndGlyphs">Jul 2022</text>
<text x="1664.5" y="778.6" font-size="25.5" font-weight="normal" fill="#605E5C" text-anchor="middle" textLength="109.0" lengthAdjust="spacingAndGlyphs">Aug 2022</text>
<polyline fill="none" stroke="#1078B4" stroke-width="4.4" stroke-linejoin="round" stroke-linecap="round" points="1107.0,740.7 1116.1,740.7 1125.2,740.7 1134.4,740.7 1143.5,740.7 1152.6,740.7 1161.7,740.7 1170.9,740.7 1180.0,740.7 1189.1,740.7 1198.2,740.7 1207.3,740.7 1216.5,740.7 1225.6,740.7 1234.7,740.7 1243.8,740.7 1253.0,740.7 1262.1,740.7 1271.2,740.7 1280.3,740.7 1289.4,740.7 1298.6,740.7 1307.7,740.7 1316.8,740.7 1325.9,740.7 1335.0,740.7 1344.2,740.7 1353.3,740.7 1362.4,740.7 1371.5,740.7 1380.7,740.7 1389.8,740.7 1398.9,740.7 1408.0,740.7 1417.1,740.7 1426.3,740.7 1435.4,740.7 1444.5,740.7 1453.6,740.7 1462.8,740.7 1471.9,740.7 1481.0,740.7 1490.1,740.7 1499.2,740.7 1508.4,740.7 1517.5,740.7 1526.6,740.7 1535.7,740.7 1544.9,740.7 1554.0,740.7 1563.1,740.7 1572.2,740.7 1581.3,740.7 1590.5,740.7 1599.6,740.7 1608.7,740.7 1617.8,740.7 1627.0,740.7 1636.1,740.7 1645.2,740.7 1654.3,740.7 1663.4,740.7 1672.6,740.7 1681.7,740.7 1690.8,740.7 1699.9,740.7 1709.1,740.7 1718.2,740.7 1727.3,740.7 1736.4,740.7 1745.5,740.7 1754.7,740.7 1763.8,740.7 1772.9,740.7 1782.0,740.7 1791.2,740.7 1800.3,740.7 1809.4,740.7 1818.5,740.7 1827.6,740.7 1836.8,740.7 1845.9,740.7 1855.0,732.4"/>
<path d="M1107.0 740.7h0M1116.1 740.7h0M1125.2 740.7h0M1134.4 740.7h0M1143.5 740.7h0M1152.6 740.7h0M1161.7 740.7h0M1170.9 740.7h0M1180.0 740.7h0M1189.1 740.7h0M1198.2 740.7h0M1207.3 740.7h0M1216.5 740.7h0M1225.6 740.7h0M1234.7 740.7h0M1243.8 740.7h0M1253.0 740.7h0M1262.1 740.7h0M1271.2 740.7h0M1280.3 740.7h0M1289.4 740.7h0M1298.6 740.7h0M1307.7 740.7h0M1316.8 740.7h0M1325.9 740.7h0M1335.0 740.7h0M1344.2 740.7h0M1353.3 740.7h0M1362.4 740.7h0M1371.5 740.7h0M1380.7 740.7h0M1389.8 740.7h0M1398.9 740.7h0M1408.0 740.7h0M1417.1 740.7h0M1426.3 740.7h0M1435.4 740.7h0M1444.5 740.7h0M1453.6 740.7h0M1462.8 740.7h0M1471.9 740.7h0M1481.0 740.7h0M1490.1 740.7h0M1499.2 740.7h0M1508.4 740.7h0M1517.5 740.7h0M1526.6 740.7h0M1535.7 740.7h0M1544.9 740.7h0M1554.0 740.7h0M1563.1 740.7h0M1572.2 740.7h0M1581.3 740.7h0M1590.5 740.7h0M1599.6 740.7h0M1608.7 740.7h0M1617.8 740.7h0M1627.0 740.7h0M1636.1 740.7h0M1645.2 740.7h0M1654.3 740.7h0M1663.4 740.7h0M1672.6 740.7h0M1681.7 740.7h0M1690.8 740.7h0M1699.9 740.7h0M1709.1 740.7h0M1718.2 740.7h0M1727.3 740.7h0M1736.4 740.7h0M1745.5 740.7h0M1754.7 740.7h0M1763.8 740.7h0M1772.9 740.7h0M1782.0 740.7h0M1791.2 740.7h0M1800.3 740.7h0M1809.4 740.7h0M1818.5 740.7h0M1827.6 740.7h0M1836.8 740.7h0M1845.9 740.7h0M1855.0 732.4h0" stroke="#1078B4" stroke-width="6.9" stroke-linecap="round" fill="none"/>
<polyline fill="none" stroke="#F0545D" stroke-width="4.4" stroke-linejoin="round" stroke-linecap="round" points="1107.0,487.8 1116.1,487.8 1125.2,487.8 1134.4,487.8 1143.5,487.8 1152.6,487.8 1161.7,487.8 1170.9,487.8 1180.0,487.8 1189.1,487.8 1198.2,487.8 1207.3,487.8 1216.5,487.8 1225.6,487.8 1234.7,487.8 1243.8,487.8 1253.0,487.8 1262.1,487.8 1271.2,487.8 1280.3,487.8 1289.4,487.8 1298.6,487.8 1307.7,487.8 1316.8,487.8 1325.9,487.8 1335.0,487.8 1344.2,487.8 1353.3,487.8 1362.4,487.8 1371.5,487.8 1380.7,487.8 1389.8,487.8 1398.9,487.8 1408.0,487.8 1417.1,487.8 1426.3,487.8 1435.4,487.8 1444.5,487.8 1453.6,487.8 1462.8,487.8 1471.9,487.8 1481.0,487.8 1490.1,487.8 1499.2,487.8 1508.4,487.8 1517.5,487.8 1526.6,487.8 1535.7,487.8 1544.9,487.8 1554.0,487.8 1563.1,487.8 1572.2,487.8 1581.3,487.8 1590.5,487.8 1599.6,487.8 1608.7,487.8 1617.8,487.8 1627.0,487.8 1636.1,487.8 1645.2,487.8 1654.3,487.8 1663.4,487.8 1672.6,487.8 1681.7,487.8 1690.8,487.8 1699.9,487.8 1709.1,487.8 1718.2,503.5 1727.3,487.8 1736.4,487.8 1745.5,487.8 1754.7,639.8 1763.8,662.3 1772.9,487.8 1782.0,487.8 1791.2,487.8 1800.3,487.8 1809.4,487.8 1818.5,487.8 1827.6,487.8 1836.8,487.8 1845.9,487.8 1855.0,487.8"/>
<path d="M1107.0 487.8h0M1116.1 487.8h0M1125.2 487.8h0M1134.4 487.8h0M1143.5 487.8h0M1152.6 487.8h0M1161.7 487.8h0M1170.9 487.8h0M1180.0 487.8h0M1189.1 487.8h0M1198.2 487.8h0M1207.3 487.8h0M1216.5 487.8h0M1225.6 487.8h0M1234.7 487.8h0M1243.8 487.8h0M1253.0 487.8h0M1262.1 487.8h0M1271.2 487.8h0M1280.3 487.8h0M1289.4 487.8h0M1298.6 487.8h0M1307.7 487.8h0M1316.8 487.8h0M1325.9 487.8h0M1335.0 487.8h0M1344.2 487.8h0M1353.3 487.8h0M1362.4 487.8h0M1371.5 487.8h0M1380.7 487.8h0M1389.8 487.8h0M1398.9 487.8h0M1408.0 487.8h0M1417.1 487.8h0M1426.3 487.8h0M1435.4 487.8h0M1444.5 487.8h0M1453.6 487.8h0M1462.8 487.8h0M1471.9 487.8h0M1481.0 487.8h0M1490.1 487.8h0M1499.2 487.8h0M1508.4 487.8h0M1517.5 487.8h0M1526.6 487.8h0M1535.7 487.8h0M1544.9 487.8h0M1554.0 487.8h0M1563.1 487.8h0M1572.2 487.8h0M1581.3 487.8h0M1590.5 487.8h0M1599.6 487.8h0M1608.7 487.8h0M1617.8 487.8h0M1627.0 487.8h0M1636.1 487.8h0M1645.2 487.8h0M1654.3 487.8h0M1663.4 487.8h0M1672.6 487.8h0M1681.7 487.8h0M1690.8 487.8h0M1699.9 487.8h0M1709.1 487.8h0M1718.2 503.5h0M1727.3 487.8h0M1736.4 487.8h0M1745.5 487.8h0M1754.7 639.8h0M1763.8 662.3h0M1772.9 487.8h0M1782.0 487.8h0M1791.2 487.8h0M1800.3 487.8h0M1809.4 487.8h0M1818.5 487.8h0M1827.6 487.8h0M1836.8 487.8h0M1845.9 487.8h0M1855.0 487.8h0" stroke="#F0545D" stroke-width="6.9" stroke-linecap="round" fill="none"/>
<polyline fill="none" stroke="#FFD92F" stroke-width="4.4" stroke-linejoin="round" stroke-linecap="round" points="1107.0,627.1 1116.1,600.3 1125.2,646.6 1134.4,616.5 1143.5,611.7 1152.6,571.8 1161.7,555.3 1170.9,587.7 1180.0,619.8 1189.1,563.7 1198.2,676.7 1207.3,696.2 1216.5,708.3 1225.6,636.3 1234.7,670.1 1243.8,584.9 1253.0,687.3 1262.1,580.4 1271.2,510.6 1280.3,541.9 1289.4,570.8 1298.6,572.3 1307.7,579.1 1316.8,549.5 1325.9,630.2 1335.0,631.7 1344.2,594.8 1353.3,610.2 1362.4,557.3 1371.5,586.2 1380.7,664.6 1389.8,649.2 1398.9,686.6 1408.0,693.7 1417.1,707.3 1426.3,667.9 1435.4,685.6 1444.5,696.4 1453.6,730.8 1462.8,676.0 1471.9,705.3 1481.0,571.8 1490.1,608.4 1499.2,604.6 1508.4,614.5 1517.5,570.8 1526.6,589.0 1535.7,691.4 1544.9,646.6 1554.0,600.3 1563.1,615.3 1572.2,651.9 1581.3,634.0 1590.5,666.1 1599.6,607.9 1608.7,602.1 1617.8,588.2 1627.0,545.5 1636.1,627.4 1645.2,621.1 1654.3,666.1 1663.4,578.1 1672.6,608.4 1681.7,660.3 1690.8,627.9 1699.9,713.6 1709.1,721.2 1718.2,723.5 1727.3,609.2 1736.4,678.2 1745.5,734.4 1754.7,739.9 1763.8,738.9 1772.9,626.6 1782.0,518.4 1791.2,525.2 1800.3,547.7 1809.4,606.2 1818.5,588.5 1827.6,590.5 1836.8,617.0 1845.9,499.2 1855.0,518.4"/>
<path d="M1107.0 627.1h0M1116.1 600.3h0M1125.2 646.6h0M1134.4 616.5h0M1143.5 611.7h0M1152.6 571.8h0M1161.7 555.3h0M1170.9 587.7h0M1180.0 619.8h0M1189.1 563.7h0M1198.2 676.7h0M1207.3 696.2h0M1216.5 708.3h0M1225.6 636.3h0M1234.7 670.1h0M1243.8 584.9h0M1253.0 687.3h0M1262.1 580.4h0M1271.2 510.6h0M1280.3 541.9h0M1289.4 570.8h0M1298.6 572.3h0M1307.7 579.1h0M1316.8 549.5h0M1325.9 630.2h0M1335.0 631.7h0M1344.2 594.8h0M1353.3 610.2h0M1362.4 557.3h0M1371.5 586.2h0M1380.7 664.6h0M1389.8 649.2h0M1398.9 686.6h0M1408.0 693.7h0M1417.1 707.3h0M1426.3 667.9h0M1435.4 685.6h0M1444.5 696.4h0M1453.6 730.8h0M1462.8 676.0h0M1471.9 705.3h0M1481.0 571.8h0M1490.1 608.4h0M1499.2 604.6h0M1508.4 614.5h0M1517.5 570.8h0M1526.6 589.0h0M1535.7 691.4h0M1544.9 646.6h0M1554.0 600.3h0M1563.1 615.3h0M1572.2 651.9h0M1581.3 634.0h0M1590.5 666.1h0M1599.6 607.9h0M1608.7 602.1h0M1617.8 588.2h0M1627.0 545.5h0M1636.1 627.4h0M1645.2 621.1h0M1654.3 666.1h0M1663.4 578.1h0M1672.6 608.4h0M1681.7 660.3h0M1690.8 627.9h0M1699.9 713.6h0M1709.1 721.2h0M1718.2 723.5h0M1727.3 609.2h0M1736.4 678.2h0M1745.5 734.4h0M1754.7 739.9h0M1763.8 738.9h0M1772.9 626.6h0M1782.0 518.4h0M1791.2 525.2h0M1800.3 547.7h0M1809.4 606.2h0M1818.5 588.5h0M1827.6 590.5h0M1836.8 617.0h0M1845.9 499.2h0M1855.0 518.4h0" stroke="#FFD92F" stroke-width="6.9" stroke-linecap="round" fill="none"/>
<rect x="1278.1" y="439.0" width="377.5" height="28.8" fill="#FFD92F"/>
<text x="1316.2" y="445.7" font-size="28.8" font-weight="normal" fill="#252423" textLength="298.9" lengthAdjust="spacingAndGlyphs">CLOUDS (%) PER DATE</text>
<line x1="1986.7" y1="483.4" x2="2781.0" y2="483.4" class="g"/>
<text x="1964.1" y="492.4" font-size="25.5" font-weight="normal" fill="#605E5C" text-anchor="end">20</text>
<line x1="1986.7" y1="611.2" x2="2781.0" y2="611.2" class="g"/>
<text x="1964.1" y="620.2" font-size="25.5" font-weight="normal" fill="#605E5C" text-anchor="end">10</text>
<line x1="1986.7" y1="739.1" x2="2781.0" y2="739.1" class="g"/>
<text x="1964.1" y="748.1" font-size="25.5" font-weight="normal" fill="#605E5C" text-anchor="end">0</text>
<text x="2007.8" y="777.0" font-size="25.5" font-weight="normal" fill="#605E5C" text-anchor="middle" textLength="102.0" lengthAdjust="spacingAndGlyphs">Jun 2022</text>
<text x="2285.8" y="777.0" font-size="25.5" font-weight="normal" fill="#605E5C" text-anchor="middle" textLength="93.0" lengthAdjust="spacingAndGlyphs">Jul 2022</text>
<text x="2573.6" y="777.0" font-size="25.5" font-weight="normal" fill="#605E5C" text-anchor="middle" textLength="109.0" lengthAdjust="spacingAndGlyphs">Aug 2022</text>
<polyline fill="none" stroke="#1078B4" stroke-width="4.4" stroke-linejoin="round" stroke-linecap="round" points="2007.7,737.8 2017.0,732.1 2026.2,737.8 2035.5,737.8 2044.8,732.1 2054.1,737.8 2063.3,732.1 2072.6,732.1 2081.9,733.7 2091.1,732.1 2100.4,737.8 2109.7,732.1 2119.0,734.9 2128.2,732.1 2137.5,732.1 2146.8,734.9 2156.1,737.8 2165.3,735.6 2174.6,732.1 2183.9,737.8 2193.1,732.1 2202.4,737.8 2211.7,737.2 2221.0,732.1 2230.2,737.8 2239.5,732.1 2248.8,737.2 2258.0,737.8 2267.3,732.1 2276.6,732.1 2285.9,737.8 2295.1,737.2 2304.4,732.1 2313.7,737.8 2322.9,732.1 2332.2,732.1 2341.5,732.1 2350.8,732.1 2360.0,732.1 2369.3,732.1 2378.6,737.8 2387.9,737.8 2397.1,736.0 2406.4,732.1 2415.7,732.1 2424.9,732.1 2434.2,737.8 2443.5,733.7 2452.8,732.1 2462.0,732.1 2471.3,732.1 2480.6,732.1 2489.8,737.8 2499.1,737.8 2508.4,732.1 2517.7,732.1 2526.9,737.8 2536.2,737.8 2545.5,732.7 2554.7,737.8 2564.0,732.1 2573.3,737.8 2582.6,737.8 2591.8,737.8 2601.1,732.1 2610.4,726.7 2619.7,731.4 2628.9,737.8 2638.2,737.8 2647.5,732.1 2656.7,733.7 2666.0,732.1 2675.3,737.8 2684.6,737.8 2693.8,734.4 2703.1,737.8 2712.4,737.8 2721.6,737.8 2730.9,732.1 2740.2,732.1 2749.5,737.8 2758.7,737.8 2768.0,732.1"/>
<path d="M2007.7 737.8h0M2017.0 732.1h0M2026.2 737.8h0M2035.5 737.8h0M2044.8 732.1h0M2054.1 737.8h0M2063.3 732.1h0M2072.6 732.1h0M2081.9 733.7h0M2091.1 732.1h0M2100.4 737.8h0M2109.7 732.1h0M2119.0 734.9h0M2128.2 732.1h0M2137.5 732.1h0M2146.8 734.9h0M2156.1 737.8h0M2165.3 735.6h0M2174.6 732.1h0M2183.9 737.8h0M2193.1 732.1h0M2202.4 737.8h0M2211.7 737.2h0M2221.0 732.1h0M2230.2 737.8h0M2239.5 732.1h0M2248.8 737.2h0M2258.0 737.8h0M2267.3 732.1h0M2276.6 732.1h0M2285.9 737.8h0M2295.1 737.2h0M2304.4 732.1h0M2313.7 737.8h0M2322.9 732.1h0M2332.2 732.1h0M2341.5 732.1h0M2350.8 732.1h0M2360.0 732.1h0M2369.3 732.1h0M2378.6 737.8h0M2387.9 737.8h0M2397.1 736.0h0M2406.4 732.1h0M2415.7 732.1h0M2424.9 732.1h0M2434.2 737.8h0M2443.5 733.7h0M2452.8 732.1h0M2462.0 732.1h0M2471.3 732.1h0M2480.6 732.1h0M2489.8 737.8h0M2499.1 737.8h0M2508.4 732.1h0M2517.7 732.1h0M2526.9 737.8h0M2536.2 737.8h0M2545.5 732.7h0M2554.7 737.8h0M2564.0 732.1h0M2573.3 737.8h0M2582.6 737.8h0M2591.8 737.8h0M2601.1 732.1h0M2610.4 726.7h0M2619.7 731.4h0M2628.9 737.8h0M2638.2 737.8h0M2647.5 732.1h0M2656.7 733.7h0M2666.0 732.1h0M2675.3 737.8h0M2684.6 737.8h0M2693.8 734.4h0M2703.1 737.8h0M2712.4 737.8h0M2721.6 737.8h0M2730.9 732.1h0M2740.2 732.1h0M2749.5 737.8h0M2758.7 737.8h0M2768.0 732.1h0" stroke="#1078B4" stroke-width="6.9" stroke-linecap="round" fill="none"/>
<polyline fill="none" stroke="#FFD92F" stroke-width="4.4" stroke-linejoin="round" stroke-linecap="round" points="2007.7,690.4 2017.0,678.6 2026.2,685.1 2035.5,689.2 2044.8,669.3 2054.1,672.7 2063.3,650.5 2072.6,643.5 2081.9,667.4 2091.1,678.6 2100.4,686.8 2109.7,675.2 2119.0,677.5 2128.2,678.0 2137.5,684.5 2146.8,693.8 2156.1,702.0 2165.3,651.3 2174.6,617.3 2183.9,656.4 2193.1,673.5 2202.4,689.6 2211.7,696.3 2221.0,649.3 2230.2,653.6 2239.5,671.1 2248.8,677.0 2258.0,654.1 2267.3,671.1 2276.6,672.7 2285.9,686.4 2295.1,682.8 2304.4,673.5 2313.7,681.7 2322.9,675.6 2332.2,672.4 2341.5,672.1 2350.8,682.2 2360.0,673.5 2369.3,671.1 2378.6,680.3 2387.9,699.1 2397.1,690.4 2406.4,658.7 2415.7,669.9 2424.9,669.3 2434.2,673.9 2443.5,675.6 2452.8,665.1 2462.0,671.1 2471.3,687.3 2480.6,669.3 2489.8,686.4 2499.1,675.2 2508.4,649.3 2517.7,685.7 2526.9,703.7 2536.2,702.8 2545.5,693.5 2554.7,686.8 2564.0,676.7 2573.3,692.2 2582.6,695.0 2591.8,688.7 2601.1,662.6 2610.4,648.8 2619.7,658.3 2628.9,663.4 2638.2,664.1 2647.5,655.2 2656.7,662.6 2666.0,670.4 2675.3,683.4 2684.6,694.4 2693.8,686.8 2703.1,680.9 2712.4,684.0 2721.6,673.9 2730.9,673.9 2740.2,678.0 2749.5,698.1 2758.7,703.3 2768.0,688.0"/>
<path d="M2007.7 690.4h0M2017.0 678.6h0M2026.2 685.1h0M2035.5 689.2h0M2044.8 669.3h0M2054.1 672.7h0M2063.3 650.5h0M2072.6 643.5h0M2081.9 667.4h0M2091.1 678.6h0M2100.4 686.8h0M2109.7 675.2h0M2119.0 677.5h0M2128.2 678.0h0M2137.5 684.5h0M2146.8 693.8h0M2156.1 702.0h0M2165.3 651.3h0M2174.6 617.3h0M2183.9 656.4h0M2193.1 673.5h0M2202.4 689.6h0M2211.7 696.3h0M2221.0 649.3h0M2230.2 653.6h0M2239.5 671.1h0M2248.8 677.0h0M2258.0 654.1h0M2267.3 671.1h0M2276.6 672.7h0M2285.9 686.4h0M2295.1 682.8h0M2304.4 673.5h0M2313.7 681.7h0M2322.9 675.6h0M2332.2 672.4h0M2341.5 672.1h0M2350.8 682.2h0M2360.0 673.5h0M2369.3 671.1h0M2378.6 680.3h0M2387.9 699.1h0M2397.1 690.4h0M2406.4 658.7h0M2415.7 669.9h0M2424.9 669.3h0M2434.2 673.9h0M2443.5 675.6h0M2452.8 665.1h0M2462.0 671.1h0M2471.3 687.3h0M2480.6 669.3h0M2489.8 686.4h0M2499.1 675.2h0M2508.4 649.3h0M2517.7 685.7h0M2526.9 703.7h0M2536.2 702.8h0M2545.5 693.5h0M2554.7 686.8h0M2564.0 676.7h0M2573.3 692.2h0M2582.6 695.0h0M2591.8 688.7h0M2601.1 662.6h0M2610.4 648.8h0M2619.7 658.3h0M2628.9 663.4h0M2638.2 664.1h0M2647.5 655.2h0M2656.7 662.6h0M2666.0 670.4h0M2675.3 683.4h0M2684.6 694.4h0M2693.8 686.8h0M2703.1 680.9h0M2712.4 684.0h0M2721.6 673.9h0M2730.9 673.9h0M2740.2 678.0h0M2749.5 698.1h0M2758.7 703.3h0M2768.0 688.0h0" stroke="#FFD92F" stroke-width="6.9" stroke-linecap="round" fill="none"/>
<polyline fill="none" stroke="#F0545D" stroke-width="4.4" stroke-linejoin="round" stroke-linecap="round" points="2007.7,622.4 2017.0,618.2 2026.2,604.3 2035.5,606.0 2044.8,618.9 2054.1,604.3 2063.3,591.2 2072.6,579.7 2081.9,595.9 2091.1,637.2 2100.4,624.3 2109.7,588.9 2119.0,603.2 2128.2,616.1 2137.5,633.0 2146.8,625.4 2156.1,663.9 2165.3,507.9 2174.6,497.7 2183.9,550.9 2193.1,602.0 2202.4,620.1 2211.7,641.6 2221.0,572.5 2230.2,600.6 2239.5,613.7 2248.8,630.2 2258.0,560.2 2267.3,618.9 2276.6,623.1 2285.9,647.4 2295.1,618.9 2304.4,595.9 2313.7,604.1 2322.9,595.0 2332.2,588.0 2341.5,590.3 2350.8,613.7 2360.0,606.0 2369.3,592.3 2378.6,617.3 2387.9,653.6 2397.1,624.7 2406.4,586.1 2415.7,593.7 2424.9,590.0 2434.2,598.5 2443.5,604.3 2452.8,593.6 2462.0,611.4 2471.3,599.6 2480.6,568.0 2489.8,612.5 2499.1,603.2 2508.4,589.5 2517.7,606.0 2526.9,635.3 2536.2,629.4 2545.5,613.7 2554.7,626.6 2564.0,607.7 2573.3,626.0 2582.6,647.7 2591.8,615.9 2601.1,583.3 2610.4,562.7 2619.7,574.3 2628.9,583.8 2638.2,576.7 2647.5,579.5 2656.7,599.6 2666.0,602.4 2675.3,626.6 2684.6,603.6 2693.8,615.9 2703.1,614.8 2712.4,599.0 2721.6,570.3 2730.9,612.3 2740.2,631.1 2749.5,659.4 2758.7,654.5 2768.0,650.5"/>
<path d="M2007.7 622.4h0M2017.0 618.2h0M2026.2 604.3h0M2035.5 606.0h0M2044.8 618.9h0M2054.1 604.3h0M2063.3 591.2h0M2072.6 579.7h0M2081.9 595.9h0M2091.1 637.2h0M2100.4 624.3h0M2109.7 588.9h0M2119.0 603.2h0M2128.2 616.1h0M2137.5 633.0h0M2146.8 625.4h0M2156.1 663.9h0M2165.3 507.9h0M2174.6 497.7h0M2183.9 550.9h0M2193.1 602.0h0M2202.4 620.1h0M2211.7 641.6h0M2221.0 572.5h0M2230.2 600.6h0M2239.5 613.7h0M2248.8 630.2h0M2258.0 560.2h0M2267.3 618.9h0M2276.6 623.1h0M2285.9 647.4h0M2295.1 618.9h0M2304.4 595.9h0M2313.7 604.1h0M2322.9 595.0h0M2332.2 588.0h0M2341.5 590.3h0M2350.8 613.7h0M2360.0 606.0h0M2369.3 592.3h0M2378.6 617.3h0M2387.9 653.6h0M2397.1 624.7h0M2406.4 586.1h0M2415.7 593.7h0M2424.9 590.0h0M2434.2 598.5h0M2443.5 604.3h0M2452.8 593.6h0M2462.0 611.4h0M2471.3 599.6h0M2480.6 568.0h0M2489.8 612.5h0M2499.1 603.2h0M2508.4 589.5h0M2517.7 606.0h0M2526.9 635.3h0M2536.2 629.4h0M2545.5 613.7h0M2554.7 626.6h0M2564.0 607.7h0M2573.3 626.0h0M2582.6 647.7h0M2591.8 615.9h0M2601.1 583.3h0M2610.4 562.7h0M2619.7 574.3h0M2628.9 583.8h0M2638.2 576.7h0M2647.5 579.5h0M2656.7 599.6h0M2666.0 602.4h0M2675.3 626.6h0M2684.6 603.6h0M2693.8 615.9h0M2703.1 614.8h0M2712.4 599.0h0M2721.6 570.3h0M2730.9 612.3h0M2740.2 631.1h0M2749.5 659.4h0M2758.7 654.5h0M2768.0 650.5h0" stroke="#F0545D" stroke-width="6.9" stroke-linecap="round" fill="none"/>
<rect x="2192.6" y="439.0" width="378.4" height="28.8" fill="#FFD92F"/>
<text x="2212.1" y="445.7" font-size="28.8" font-weight="normal" fill="#252423" textLength="335.9" lengthAdjust="spacingAndGlyphs">WIND (KNOTS) PER DATE</text>
<line x1="1071.9" y1="975.5" x2="1867.6" y2="975.5" class="g"/>
<text x="1050.3" y="984.5" font-size="25.5" font-weight="normal" fill="#605E5C" text-anchor="end">5</text>
<line x1="1071.9" y1="1133.9" x2="1867.6" y2="1133.9" class="g"/>
<text x="1050.3" y="1142.9" font-size="25.5" font-weight="normal" fill="#605E5C" text-anchor="end">0</text>
<text x="1094.5" y="1173.8" font-size="25.5" font-weight="normal" fill="#605E5C" text-anchor="middle" textLength="102.0" lengthAdjust="spacingAndGlyphs">Jun 2022</text>
<text x="1372.4" y="1173.8" font-size="25.5" font-weight="normal" fill="#605E5C" text-anchor="middle" textLength="93.0" lengthAdjust="spacingAndGlyphs">Jul 2022</text>
<text x="1660.8" y="1173.8" font-size="25.5" font-weight="normal" fill="#605E5C" text-anchor="middle" textLength="109.0" lengthAdjust="spacingAndGlyphs">Aug 2022</text>
<polyline fill="none" stroke="#1078B4" stroke-width="4.4" stroke-linejoin="round" stroke-linecap="round" points="1093.6,1133.9 1102.9,1133.9 1112.2,1133.9 1121.5,1133.9 1130.7,1133.9 1140.0,1133.9 1149.3,1133.9 1158.6,1133.9 1167.9,1133.9 1177.2,1133.9 1186.4,1133.9 1195.7,1133.9 1205.0,1133.9 1214.3,1133.9 1223.6,1133.9 1232.9,1133.9 1242.2,1133.9 1251.4,1133.9 1260.7,1133.3 1270.0,1133.9 1279.3,1133.9 1288.6,1133.9 1297.9,1133.9 1307.2,1133.9 1316.4,1133.9 1325.7,1133.9 1335.0,1133.9 1344.3,1133.9 1353.6,1133.9 1362.9,1133.9 1372.1,1133.9 1381.4,1133.9 1390.7,1133.9 1400.0,1133.9 1409.3,1133.9 1418.6,1133.9 1427.9,1133.9 1437.1,1133.9 1446.4,1133.9 1455.7,1133.9 1465.0,1133.9 1474.3,1133.9 1483.6,1133.9 1492.9,1133.9 1502.1,1133.9 1511.4,1133.9 1520.7,1133.9 1530.0,1133.9 1539.3,1133.9 1548.6,1133.9 1557.8,1133.9 1567.1,1133.9 1576.4,1133.9 1585.7,1133.9 1595.0,1133.9 1604.3,1133.9 1613.6,1133.9 1622.8,1133.9 1632.1,1133.9 1641.4,1133.9 1650.7,1133.9 1660.0,1133.9 1669.3,1133.9 1678.6,1133.9 1687.8,1133.9 1697.1,1133.9 1706.4,1133.9 1715.7,1133.9 1725.0,1133.9 1734.3,1133.9 1743.5,1133.9 1752.8,1133.9 1762.1,1133.9 1771.4,1133.9 1780.7,1133.9 1790.0,1133.9 1799.3,1133.9 1808.5,1133.9 1817.8,1133.9 1827.1,1133.9 1836.4,1133.9 1845.7,1133.9 1855.0,1133.9"/>
<path d="M1093.6 1133.9h0M1102.9 1133.9h0M1112.2 1133.9h0M1121.5 1133.9h0M1130.7 1133.9h0M1140.0 1133.9h0M1149.3 1133.9h0M1158.6 1133.9h0M1167.9 1133.9h0M1177.2 1133.9h0M1186.4 1133.9h0M1195.7 1133.9h0M1205.0 1133.9h0M1214.3 1133.9h0M1223.6 1133.9h0M1232.9 1133.9h0M1242.2 1133.9h0M1251.4 1133.9h0M1260.7 1133.3h0M1270.0 1133.9h0M1279.3 1133.9h0M1288.6 1133.9h0M1297.9 1133.9h0M1307.2 1133.9h0M1316.4 1133.9h0M1325.7 1133.9h0M1335.0 1133.9h0M1344.3 1133.9h0M1353.6 1133.9h0M1362.9 1133.9h0M1372.1 1133.9h0M1381.4 1133.9h0M1390.7 1133.9h0M1400.0 1133.9h0M1409.3 1133.9h0M1418.6 1133.9h0M1427.9 1133.9h0M1437.1 1133.9h0M1446.4 1133.9h0M1455.7 1133.9h0M1465.0 1133.9h0M1474.3 1133.9h0M1483.6 1133.9h0M1492.9 1133.9h0M1502.1 1133.9h0M1511.4 1133.9h0M1520.7 1133.9h0M1530.0 1133.9h0M1539.3 1133.9h0M1548.6 1133.9h0M1557.8 1133.9h0M1567.1 1133.9h0M1576.4 1133.9h0M1585.7 1133.9h0M1595.0 1133.9h0M1604.3 1133.9h0M1613.6 1133.9h0M1622.8 1133.9h0M1632.1 1133.9h0M1641.4 1133.9h0M1650.7 1133.9h0M1660.0 1133.9h0M1669.3 1133.9h0M1678.6 1133.9h0M1687.8 1133.9h0M1697.1 1133.9h0M1706.4 1133.9h0M1715.7 1133.9h0M1725.0 1133.9h0M1734.3 1133.9h0M1743.5 1133.9h0M1752.8 1133.9h0M1762.1 1133.9h0M1771.4 1133.9h0M1780.7 1133.9h0M1790.0 1133.9h0M1799.3 1133.9h0M1808.5 1133.9h0M1817.8 1133.9h0M1827.1 1133.9h0M1836.4 1133.9h0M1845.7 1133.9h0M1855.0 1133.9h0" stroke="#1078B4" stroke-width="6.9" stroke-linecap="round" fill="none"/>
<polyline fill="none" stroke="#FFD92F" stroke-width="4.4" stroke-linejoin="round" stroke-linecap="round" points="1093.6,1133.9 1102.9,1132.9 1112.2,1132.9 1121.5,1132.9 1130.7,1132.9 1140.0,1132.9 1149.3,1132.9 1158.6,1132.9 1167.9,1133.9 1177.2,1133.9 1186.4,1133.9 1195.7,1133.9 1205.0,1133.9 1214.3,1133.9 1223.6,1133.9 1232.9,1133.9 1242.2,1133.9 1251.4,1131.4 1260.7,1126.9 1270.0,1132.9 1279.3,1132.9 1288.6,1132.9 1297.9,1132.9 1307.2,1132.9 1316.4,1132.9 1325.7,1132.9 1335.0,1132.9 1344.3,1132.9 1353.6,1132.9 1362.9,1132.9 1372.1,1133.9 1381.4,1133.9 1390.7,1133.9 1400.0,1133.9 1409.3,1133.9 1418.6,1133.9 1427.9,1133.9 1437.1,1133.9 1446.4,1133.9 1455.7,1133.9 1465.0,1133.9 1474.3,1133.9 1483.6,1133.9 1492.9,1133.9 1502.1,1133.9 1511.4,1132.6 1520.7,1133.9 1530.0,1133.9 1539.3,1132.6 1548.6,1132.6 1557.8,1133.9 1567.1,1132.6 1576.4,1133.9 1585.7,1132.6 1595.0,1133.9 1604.3,1133.9 1613.6,1132.6 1622.8,1132.6 1632.1,1132.6 1641.4,1133.9 1650.7,1133.9 1660.0,1133.9 1669.3,1133.9 1678.6,1133.9 1687.8,1132.6 1697.1,1133.9 1706.4,1133.9 1715.7,1133.9 1725.0,1133.9 1734.3,1133.9 1743.5,1133.9 1752.8,1133.9 1762.1,1133.9 1771.4,1132.6 1780.7,1133.9 1790.0,1133.9 1799.3,1133.9 1808.5,1133.9 1817.8,1133.9 1827.1,1133.9 1836.4,1133.9 1845.7,1133.9 1855.0,1133.9"/>
<path d="M1093.6 1133.9h0M1102.9 1132.9h0M1112.2 1132.9h0M1121.5 1132.9h0M1130.7 1132.9h0M1140.0 1132.9h0M1149.3 1132.9h0M1158.6 1132.9h0M1167.9 1133.9h0M1177.2 1133.9h0M1186.4 1133.9h0M1195.7 1133.9h0M1205.0 1133.9h0M1214.3 1133.9h0M1223.6 1133.9h0M1232.9 1133.9h0M1242.2 1133.9h0M1251.4 1131.4h0M1260.7 1126.9h0M1270.0 1132.9h0M1279.3 1132.9h0M1288.6 1132.9h0M1297.9 1132.9h0M1307.2 1132.9h0M1316.4 1132.9h0M1325.7 1132.9h0M1335.0 1132.9h0M1344.3 1132.9h0M1353.6 1132.9h0M1362.9 1132.9h0M1372.1 1133.9h0M1381.4 1133.9h0M1390.7 1133.9h0M1400.0 1133.9h0M1409.3 1133.9h0M1418.6 1133.9h0M1427.9 1133.9h0M1437.1 1133.9h0M1446.4 1133.9h0M1455.7 1133.9h0M1465.0 1133.9h0M1474.3 1133.9h0M1483.6 1133.9h0M1492.9 1133.9h0M1502.1 1133.9h0M1511.4 1132.6h0M1520.7 1133.9h0M1530.0 1133.9h0M1539.3 1132.6h0M1548.6 1132.6h0M1557.8 1133.9h0M1567.1 1132.6h0M1576.4 1133.9h0M1585.7 1132.6h0M1595.0 1133.9h0M1604.3 1133.9h0M1613.6 1132.6h0M1622.8 1132.6h0M1632.1 1132.6h0M1641.4 1133.9h0M1650.7 1133.9h0M1660.0 1133.9h0M1669.3 1133.9h0M1678.6 1133.9h0M1687.8 1132.6h0M1697.1 1133.9h0M1706.4 1133.9h0M1715.7 1133.9h0M1725.0 1133.9h0M1734.3 1133.9h0M1743.5 1133.9h0M1752.8 1133.9h0M1762.1 1133.9h0M1771.4 1132.6h0M1780.7 1133.9h0M1790.0 1133.9h0M1799.3 1133.9h0M1808.5 1133.9h0M1817.8 1133.9h0M1827.1 1133.9h0M1836.4 1133.9h0M1845.7 1133.9h0M1855.0 1133.9h0" stroke="#FFD92F" stroke-width="6.9" stroke-linecap="round" fill="none"/>
<polyline fill="none" stroke="#F0545D" stroke-width="4.4" stroke-linejoin="round" stroke-linecap="round" points="1093.6,1133.9 1102.9,1080.4 1112.2,979.0 1121.5,926.7 1130.7,1125.3 1140.0,1113.6 1149.3,1097.5 1158.6,954.3 1167.9,1133.9 1177.2,1130.1 1186.4,1133.9 1195.7,1133.9 1205.0,1133.9 1214.3,1133.9 1223.6,1133.9 1232.9,1133.9 1242.2,1133.9 1251.4,889.3 1260.7,900.1 1270.0,1017.3 1279.3,999.6 1288.6,983.4 1297.9,1077.5 1307.2,1099.1 1316.4,1102.2 1325.7,1106.3 1335.0,1119.3 1344.3,1108.9 1353.6,1050.6 1362.9,1103.2 1372.1,1133.9 1381.4,1121.9 1390.7,1133.9 1400.0,1133.9 1409.3,1133.9 1418.6,1133.9 1427.9,1133.9 1437.1,1133.9 1446.4,1133.9 1455.7,1133.9 1465.0,1133.9 1474.3,1133.9 1483.6,1133.9 1492.9,1133.9 1502.1,1133.9 1511.4,1115.2 1520.7,1133.9 1530.0,1133.9 1539.3,943.8 1548.6,1121.2 1557.8,1133.9 1567.1,1125.0 1576.4,1133.9 1585.7,1130.7 1595.0,1133.9 1604.3,1133.9 1613.6,1119.6 1622.8,1074.0 1632.1,1126.0 1641.4,1133.9 1650.7,1133.9 1660.0,1133.9 1669.3,1133.9 1678.6,1133.9 1687.8,1124.7 1697.1,1133.9 1706.4,1133.9 1715.7,1133.9 1725.0,1133.9 1734.3,1133.9 1743.5,1133.9 1752.8,1133.9 1762.1,1133.9 1771.4,1035.7 1780.7,1133.9 1790.0,1133.9 1799.3,1133.9 1808.5,1133.9 1817.8,1133.9 1827.1,1133.9 1836.4,1133.9 1845.7,1133.9 1855.0,1133.9"/>
<path d="M1093.6 1133.9h0M1102.9 1080.4h0M1112.2 979.0h0M1121.5 926.7h0M1130.7 1125.3h0M1140.0 1113.6h0M1149.3 1097.5h0M1158.6 954.3h0M1167.9 1133.9h0M1177.2 1130.1h0M1186.4 1133.9h0M1195.7 1133.9h0M1205.0 1133.9h0M1214.3 1133.9h0M1223.6 1133.9h0M1232.9 1133.9h0M1242.2 1133.9h0M1251.4 889.3h0M1260.7 900.1h0M1270.0 1017.3h0M1279.3 999.6h0M1288.6 983.4h0M1297.9 1077.5h0M1307.2 1099.1h0M1316.4 1102.2h0M1325.7 1106.3h0M1335.0 1119.3h0M1344.3 1108.9h0M1353.6 1050.6h0M1362.9 1103.2h0M1372.1 1133.9h0M1381.4 1121.9h0M1390.7 1133.9h0M1400.0 1133.9h0M1409.3 1133.9h0M1418.6 1133.9h0M1427.9 1133.9h0M1437.1 1133.9h0M1446.4 1133.9h0M1455.7 1133.9h0M1465.0 1133.9h0M1474.3 1133.9h0M1483.6 1133.9h0M1492.9 1133.9h0M1502.1 1133.9h0M1511.4 1115.2h0M1520.7 1133.9h0M1530.0 1133.9h0M1539.3 943.8h0M1548.6 1121.2h0M1557.8 1133.9h0M1567.1 1125.0h0M1576.4 1133.9h0M1585.7 1130.7h0M1595.0 1133.9h0M1604.3 1133.9h0M1613.6 1119.6h0M1622.8 1074.0h0M1632.1 1126.0h0M1641.4 1133.9h0M1650.7 1133.9h0M1660.0 1133.9h0M1669.3 1133.9h0M1678.6 1133.9h0M1687.8 1124.7h0M1697.1 1133.9h0M1706.4 1133.9h0M1715.7 1133.9h0M1725.0 1133.9h0M1734.3 1133.9h0M1743.5 1133.9h0M1752.8 1133.9h0M1762.1 1133.9h0M1771.4 1035.7h0M1780.7 1133.9h0M1790.0 1133.9h0M1799.3 1133.9h0M1808.5 1133.9h0M1817.8 1133.9h0M1827.1 1133.9h0M1836.4 1133.9h0M1845.7 1133.9h0M1855.0 1133.9h0" stroke="#F0545D" stroke-width="6.9" stroke-linecap="round" fill="none"/>
<rect x="1278.1" y="834.2" width="377.5" height="28.7" fill="#FFD92F"/>
<text x="1321.7" y="839.7" font-size="28.8" font-weight="normal" fill="#252423" textLength="287.3" lengthAdjust="spacingAndGlyphs">RAIN (MM) PER DATE</text>
<line x1="1988.3" y1="882.0" x2="2781.0" y2="882.0" class="g"/>
<text x="1966.7" y="891.0" font-size="25.5" font-weight="normal" fill="#605E5C" text-anchor="end">40</text>
<line x1="1988.3" y1="1010.5" x2="2781.0" y2="1010.5" class="g"/>
<text x="1966.7" y="1019.5" font-size="25.5" font-weight="normal" fill="#605E5C" text-anchor="end">20</text>
<line x1="1988.3" y1="1138.9" x2="2781.0" y2="1138.9" class="g"/>
<text x="1966.7" y="1147.9" font-size="25.5" font-weight="normal" fill="#605E5C" text-anchor="end">0</text>
<text x="2010.4" y="1173.8" font-size="25.5" font-weight="normal" fill="#605E5C" text-anchor="middle" textLength="102.0" lengthAdjust="spacingAndGlyphs">Jun 2022</text>
<text x="2287.0" y="1173.8" font-size="25.5" font-weight="normal" fill="#605E5C" text-anchor="middle" textLength="93.0" lengthAdjust="spacingAndGlyphs">Jul 2022</text>
<text x="2574.3" y="1173.8" font-size="25.5" font-weight="normal" fill="#605E5C" text-anchor="middle" textLength="109.0" lengthAdjust="spacingAndGlyphs">Aug 2022</text>
<polyline fill="none" stroke="#1078B4" stroke-width="4.4" stroke-linejoin="round" stroke-linecap="round" points="2009.5,1126.1 2018.7,1102.3 2028.0,1086.9 2037.2,1076.0 2046.5,1077.2 2055.7,1104.9 2065.0,1068.9 2074.2,1068.9 2083.5,1083.7 2092.7,1082.4 2102.0,1088.2 2111.2,1090.7 2120.5,1101.0 2129.7,1104.9 2139.0,1081.7 2148.2,1088.8 2157.5,1052.2 2166.7,1068.9 2176.0,1077.2 2185.2,1068.9 2194.5,1068.9 2203.7,1068.9 2213.0,1068.9 2222.2,1074.7 2231.5,1086.9 2240.7,1101.0 2249.9,1108.1 2259.2,1111.9 2268.4,1081.7 2277.7,1098.4 2286.9,1119.0 2296.2,1115.8 2305.4,1097.2 2314.7,1104.9 2323.9,1104.9 2333.2,1079.8 2342.4,1082.4 2351.7,1088.8 2360.9,1072.7 2370.2,1079.8 2379.4,1072.7 2388.7,1056.7 2397.9,1056.7 2407.2,1068.9 2416.4,1086.9 2425.7,1079.8 2434.9,1052.2 2444.2,1029.1 2453.4,1044.5 2462.7,1050.9 2471.9,1076.0 2481.1,1074.7 2490.4,1090.7 2499.6,1079.8 2508.9,1052.8 2518.1,1073.4 2527.4,1101.0 2536.6,1076.0 2545.9,1062.5 2555.1,1072.7 2564.4,1052.2 2573.6,1054.8 2582.9,1068.9 2592.1,1053.5 2601.4,1075.3 2610.6,1074.7 2619.9,1104.9 2629.1,1098.4 2638.4,1086.9 2647.6,1068.9 2656.9,1061.8 2666.1,1058.6 2675.4,1058.6 2684.6,1058.6 2693.9,1043.8 2703.1,1065.7 2712.3,1057.3 2721.6,1071.5 2730.8,1052.8 2740.1,1067.6 2749.3,1094.6 2758.6,1079.8 2767.8,1047.7"/>
<path d="M2009.5 1126.1h0M2018.7 1102.3h0M2028.0 1086.9h0M2037.2 1076.0h0M2046.5 1077.2h0M2055.7 1104.9h0M2065.0 1068.9h0M2074.2 1068.9h0M2083.5 1083.7h0M2092.7 1082.4h0M2102.0 1088.2h0M2111.2 1090.7h0M2120.5 1101.0h0M2129.7 1104.9h0M2139.0 1081.7h0M2148.2 1088.8h0M2157.5 1052.2h0M2166.7 1068.9h0M2176.0 1077.2h0M2185.2 1068.9h0M2194.5 1068.9h0M2203.7 1068.9h0M2213.0 1068.9h0M2222.2 1074.7h0M2231.5 1086.9h0M2240.7 1101.0h0M2249.9 1108.1h0M2259.2 1111.9h0M2268.4 1081.7h0M2277.7 1098.4h0M2286.9 1119.0h0M2296.2 1115.8h0M2305.4 1097.2h0M2314.7 1104.9h0M2323.9 1104.9h0M2333.2 1079.8h0M2342.4 1082.4h0M2351.7 1088.8h0M2360.9 1072.7h0M2370.2 1079.8h0M2379.4 1072.7h0M2388.7 1056.7h0M2397.9 1056.7h0M2407.2 1068.9h0M2416.4 1086.9h0M2425.7 1079.8h0M2434.9 1052.2h0M2444.2 1029.1h0M2453.4 1044.5h0M2462.7 1050.9h0M2471.9 1076.0h0M2481.1 1074.7h0M2490.4 1090.7h0M2499.6 1079.8h0M2508.9 1052.8h0M2518.1 1073.4h0M2527.4 1101.0h0M2536.6 1076.0h0M2545.9 1062.5h0M2555.1 1072.7h0M2564.4 1052.2h0M2573.6 1054.8h0M2582.9 1068.9h0M2592.1 1053.5h0M2601.4 1075.3h0M2610.6 1074.7h0M2619.9 1104.9h0M2629.1 1098.4h0M2638.4 1086.9h0M2647.6 1068.9h0M2656.9 1061.8h0M2666.1 1058.6h0M2675.4 1058.6h0M2684.6 1058.6h0M2693.9 1043.8h0M2703.1 1065.7h0M2712.3 1057.3h0M2721.6 1071.5h0M2730.8 1052.8h0M2740.1 1067.6h0M2749.3 1094.6h0M2758.6 1079.8h0M2767.8 1047.7h0" stroke="#1078B4" stroke-width="6.9" stroke-linecap="round" fill="none"/>
<polyline fill="none" stroke="#FFD92F" stroke-width="4.4" stroke-linejoin="round" stroke-linecap="round" points="2009.5,1059.9 2018.7,1042.6 2028.0,1040.6 2037.2,1040.0 2046.5,1049.6 2055.7,1054.1 2065.0,1047.1 2074.2,1047.1 2083.5,1044.5 2092.7,1041.9 2102.0,1045.8 2111.2,1048.3 2120.5,1049.6 2129.7,1040.0 2139.0,1028.4 2148.2,1022.7 2157.5,998.9 2166.7,1016.2 2176.0,1054.1 2185.2,1040.0 2194.5,1036.8 2203.7,1036.1 2213.0,1038.1 2222.2,1045.8 2231.5,1054.8 2240.7,1053.5 2249.9,1054.8 2259.2,1049.6 2268.4,1052.8 2277.7,1060.5 2286.9,1054.8 2296.2,1050.3 2305.4,1049.6 2314.7,1050.9 2323.9,1045.1 2333.2,1035.5 2342.4,1037.4 2351.7,1029.1 2360.9,1020.1 2370.2,1015.6 2379.4,1007.2 2388.7,995.0 2397.9,1003.4 2407.2,1025.9 2416.4,1023.9 2425.7,1013.0 2434.9,991.8 2444.2,971.3 2453.4,1009.8 2462.7,1028.4 2471.9,1032.9 2481.1,1035.5 2490.4,1032.3 2499.6,1020.7 2508.9,1031.0 2518.1,1034.2 2527.4,1040.0 2536.6,1029.1 2545.9,1022.0 2555.1,1025.9 2564.4,1024.6 2573.6,1025.9 2582.9,1018.8 2592.1,1020.1 2601.4,1028.4 2610.6,1038.1 2619.9,1032.9 2629.1,1025.9 2638.4,1018.8 2647.6,1014.9 2656.9,1006.0 2666.1,995.7 2675.4,993.8 2684.6,995.0 2693.9,1020.7 2703.1,1025.2 2712.3,1029.1 2721.6,1036.1 2730.8,1029.7 2740.1,1031.6 2749.3,1039.4 2758.6,1040.6 2767.8,1027.1"/>
<path d="M2009.5 1059.9h0M2018.7 1042.6h0M2028.0 1040.6h0M2037.2 1040.0h0M2046.5 1049.6h0M2055.7 1054.1h0M2065.0 1047.1h0M2074.2 1047.1h0M2083.5 1044.5h0M2092.7 1041.9h0M2102.0 1045.8h0M2111.2 1048.3h0M2120.5 1049.6h0M2129.7 1040.0h0M2139.0 1028.4h0M2148.2 1022.7h0M2157.5 998.9h0M2166.7 1016.2h0M2176.0 1054.1h0M2185.2 1040.0h0M2194.5 1036.8h0M2203.7 1036.1h0M2213.0 1038.1h0M2222.2 1045.8h0M2231.5 1054.8h0M2240.7 1053.5h0M2249.9 1054.8h0M2259.2 1049.6h0M2268.4 1052.8h0M2277.7 1060.5h0M2286.9 1054.8h0M2296.2 1050.3h0M2305.4 1049.6h0M2314.7 1050.9h0M2323.9 1045.1h0M2333.2 1035.5h0M2342.4 1037.4h0M2351.7 1029.1h0M2360.9 1020.1h0M2370.2 1015.6h0M2379.4 1007.2h0M2388.7 995.0h0M2397.9 1003.4h0M2407.2 1025.9h0M2416.4 1023.9h0M2425.7 1013.0h0M2434.9 991.8h0M2444.2 971.3h0M2453.4 1009.8h0M2462.7 1028.4h0M2471.9 1032.9h0M2481.1 1035.5h0M2490.4 1032.3h0M2499.6 1020.7h0M2508.9 1031.0h0M2518.1 1034.2h0M2527.4 1040.0h0M2536.6 1029.1h0M2545.9 1022.0h0M2555.1 1025.9h0M2564.4 1024.6h0M2573.6 1025.9h0M2582.9 1018.8h0M2592.1 1020.1h0M2601.4 1028.4h0M2610.6 1038.1h0M2619.9 1032.9h0M2629.1 1025.9h0M2638.4 1018.8h0M2647.6 1014.9h0M2656.9 1006.0h0M2666.1 995.7h0M2675.4 993.8h0M2684.6 995.0h0M2693.9 1020.7h0M2703.1 1025.2h0M2712.3 1029.1h0M2721.6 1036.1h0M2730.8 1029.7h0M2740.1 1031.6h0M2749.3 1039.4h0M2758.6 1040.6h0M2767.8 1027.1h0" stroke="#FFD92F" stroke-width="6.9" stroke-linecap="round" fill="none"/>
<polyline fill="none" stroke="#F0545D" stroke-width="4.4" stroke-linejoin="round" stroke-linecap="round" points="2009.5,998.9 2018.7,969.3 2028.0,976.4 2037.2,980.9 2046.5,1008.5 2055.7,1023.3 2065.0,1014.9 2074.2,1010.5 2083.5,1000.2 2092.7,1009.2 2102.0,984.8 2111.2,992.5 2120.5,992.5 2129.7,962.9 2139.0,943.7 2148.2,949.4 2157.5,916.7 2166.7,897.4 2176.0,975.8 2185.2,977.7 2194.5,973.8 2203.7,981.5 2213.0,982.8 2222.2,1009.8 2231.5,1023.3 2240.7,1012.4 2249.9,1009.2 2259.2,1005.3 2268.4,1013.7 2277.7,1016.9 2286.9,1007.9 2296.2,982.8 2305.4,996.3 2314.7,982.8 2323.9,985.4 2333.2,970.6 2342.4,982.8 2351.7,963.6 2360.9,949.4 2370.2,950.7 2379.4,935.9 2388.7,921.8 2397.9,905.8 2407.2,950.1 2416.4,957.1 2425.7,943.0 2434.9,920.5 2444.2,882.0 2453.4,946.9 2462.7,982.8 2471.9,957.8 2481.1,958.4 2490.4,962.9 2499.6,936.6 2508.9,992.5 2518.1,997.6 2527.4,982.2 2536.6,960.4 2545.9,948.2 2555.1,953.9 2564.4,965.5 2573.6,957.1 2582.9,929.5 2592.1,923.1 2601.4,962.9 2610.6,977.1 2619.9,970.6 2629.1,962.3 2638.4,950.7 2647.6,935.9 2656.9,925.0 2666.1,919.9 2675.4,921.2 2684.6,908.3 2693.9,984.1 2703.1,966.1 2712.3,984.8 2721.6,995.0 2730.8,979.6 2740.1,989.3 2749.3,973.8 2758.6,1005.3 2767.8,986.7"/>
<path d="M2009.5 998.9h0M2018.7 969.3h0M2028.0 976.4h0M2037.2 980.9h0M2046.5 1008.5h0M2055.7 1023.3h0M2065.0 1014.9h0M2074.2 1010.5h0M2083.5 1000.2h0M2092.7 1009.2h0M2102.0 984.8h0M2111.2 992.5h0M2120.5 992.5h0M2129.7 962.9h0M2139.0 943.7h0M2148.2 949.4h0M2157.5 916.7h0M2166.7 897.4h0M2176.0 975.8h0M2185.2 977.7h0M2194.5 973.8h0M2203.7 981.5h0M2213.0 982.8h0M2222.2 1009.8h0M2231.5 1023.3h0M2240.7 1012.4h0M2249.9 1009.2h0M2259.2 1005.3h0M2268.4 1013.7h0M2277.7 1016.9h0M2286.9 1007.9h0M2296.2 982.8h0M2305.4 996.3h0M2314.7 982.8h0M2323.9 985.4h0M2333.2 970.6h0M2342.4 982.8h0M2351.7 963.6h0M2360.9 949.4h0M2370.2 950.7h0M2379.4 935.9h0M2388.7 921.8h0M2397.9 905.8h0M2407.2 950.1h0M2416.4 957.1h0M2425.7 943.0h0M2434.9 920.5h0M2444.2 882.0h0M2453.4 946.9h0M2462.7 982.8h0M2471.9 957.8h0M2481.1 958.4h0M2490.4 962.9h0M2499.6 936.6h0M2508.9 992.5h0M2518.1 997.6h0M2527.4 982.2h0M2536.6 960.4h0M2545.9 948.2h0M2555.1 953.9h0M2564.4 965.5h0M2573.6 957.1h0M2582.9 929.5h0M2592.1 923.1h0M2601.4 962.9h0M2610.6 977.1h0M2619.9 970.6h0M2629.1 962.3h0M2638.4 950.7h0M2647.6 935.9h0M2656.9 925.0h0M2666.1 919.9h0M2675.4 921.2h0M2684.6 908.3h0M2693.9 984.1h0M2703.1 966.1h0M2712.3 984.8h0M2721.6 995.0h0M2730.8 979.6h0M2740.1 989.3h0M2749.3 973.8h0M2758.6 1005.3h0M2767.8 986.7h0" stroke="#F0545D" stroke-width="6.9" stroke-linecap="round" fill="none"/>
<rect x="2192.6" y="834.2" width="378.4" height="28.7" fill="#FFD92F"/>
<text x="2215.2" y="839.7" font-size="28.8" font-weight="normal" fill="#252423" textLength="330.6" lengthAdjust="spacingAndGlyphs">TEMPERATURE PER DATE</text>
<text x="1045.2" y="1236.5" font-size="30.1" font-weight="normal" fill="#252423" textLength="384.5" lengthAdjust="spacingAndGlyphs">AVERAGE TEMPERATURE (C°)</text>
<rect x="1134.0" y="1330.9" width="200.7" height="28.8" fill="#FFD92F"/>
<text x="1162.2" y="1343.3" font-size="59.3" font-weight="bold" fill="#252423" textLength="146.8" lengthAdjust="spacingAndGlyphs">16.61</text>
<text x="1627.2" y="1236.5" font-size="30.1" font-weight="normal" fill="#252423" textLength="134.9" lengthAdjust="spacingAndGlyphs">LAND (C°)</text>
<rect x="1591.4" y="1330.9" width="200.3" height="28.8" fill="#FFD92F"/>
<text x="1620.6" y="1343.3" font-size="59.3" font-weight="bold" fill="#252423" textLength="149.9" lengthAdjust="spacingAndGlyphs">16.96</text>
<text x="2013.2" y="1236.5" font-size="30.1" font-weight="normal" fill="#252423" textLength="278.7" lengthAdjust="spacingAndGlyphs">RAIN AT LAND (MM)</text>
<rect x="2047.8" y="1330.9" width="200.8" height="28.8" fill="#FFD92F"/>
<text x="2060.7" y="1343.3" font-size="59.3" font-weight="bold" fill="#252423" textLength="184.5" lengthAdjust="spacingAndGlyphs">275.02</text>
<text x="2503.6" y="1236.5" font-size="30.1" font-weight="normal" fill="#252423" textLength="205.6" lengthAdjust="spacingAndGlyphs">MAX TEMP (C°)</text>
<rect x="2505.3" y="1330.9" width="200.2" height="28.8" fill="#F0545D"/>
<text x="2573.3" y="1343.3" font-size="59.3" font-weight="bold" fill="#252423" textLength="67.4" lengthAdjust="spacingAndGlyphs">40</text>
<text x="1067.2" y="1435.2" font-size="30.1" font-weight="normal" fill="#252423" textLength="347.1" lengthAdjust="spacingAndGlyphs">AVERAGE PRESSURE (hPA)</text>
<rect x="1134.0" y="1530.1" width="200.7" height="28.3" fill="#FFD92F"/>
<text x="1163.9" y="1540.9" font-size="59.3" font-weight="bold" fill="#252423" textLength="153.4" lengthAdjust="spacingAndGlyphs">1.02K</text>
<text x="1642.7" y="1435.2" font-size="30.1" font-weight="normal" fill="#252423" textLength="108.0" lengthAdjust="spacingAndGlyphs">SEA (C°)</text>
<rect x="1591.4" y="1528.0" width="200.3" height="28.3" fill="#FFD92F"/>
<text x="1622.1" y="1540.9" font-size="59.3" font-weight="bold" fill="#252423" textLength="149.1" lengthAdjust="spacingAndGlyphs">16.28</text>
<text x="2028.7" y="1435.2" font-size="30.1" font-weight="normal" fill="#252423" textLength="251.9" lengthAdjust="spacingAndGlyphs">RAIN AT SEA (MM)</text>
<rect x="2047.8" y="1528.0" width="200.8" height="28.3" fill="#FFD92F"/>
<text x="2064.0" y="1540.9" font-size="59.3" font-weight="bold" fill="#252423" textLength="181.5" lengthAdjust="spacingAndGlyphs">336.55</text>
<text x="2507.2" y="1435.2" font-size="30.1" font-weight="normal" fill="#252423" textLength="198.5" lengthAdjust="spacingAndGlyphs">MIN TEMP (C°)</text>
<rect x="2505.3" y="1528.4" width="200.6" height="28.4" fill="#1078B4"/>
<text x="2590.1" y="1540.9" font-size="59.3" font-weight="bold" fill="#252423" textLength="32.5" lengthAdjust="spacingAndGlyphs">2</text>
<rect x="91.0" y="1754.4" width="723.7" height="56.9" fill="#FFD92F"/>
<text x="95.2" y="1767.2" font-size="72.5" font-weight="bold" fill="#252423" textLength="699.3" lengthAdjust="spacingAndGlyphs">Monthly Comparison</text>
<text x="50.2" y="1898.6" font-size="29.4" font-weight="normal" fill="#252423" textLength="69.2" lengthAdjust="spacingAndGlyphs">YEAR</text>
<text x="544.7" y="1896.7" font-size="30.1" font-weight="normal" fill="#252423" textLength="278.5" lengthAdjust="spacingAndGlyphs">LOCATION QUARTER</text>
<rect x="44.20" y="1922.10" width="448.80" height="59.70" fill="#fff" stroke="#E9E9E9" stroke-width="2.2"/>
<text x="57.1" y="1965.9" font-size="29.7" font-weight="normal" fill="#252423" textLength="31.1" lengthAdjust="spacingAndGlyphs">All</text>
<polyline points="452.2,1946.0 465.9,1960.8 479.6,1946.0" fill="none" stroke="#252423" stroke-width="1.9"/>
<rect x="540.10" y="1920.20" width="448.80" height="59.70" fill="#fff" stroke="#E9E9E9" stroke-width="2.2"/>
<text x="553.0" y="1964.0" font-size="29.7" font-weight="normal" fill="#252423" textLength="31.1" lengthAdjust="spacingAndGlyphs">All</text>
<polyline points="948.1,1944.1 961.8,1958.9 975.5,1944.1" fill="none" stroke="#252423" stroke-width="1.9"/>
<line x1="112.1" y1="2780.8" x2="994.8" y2="2780.8" class="g"/>
<text x="88.1" y="2790.1" font-size="25.5" font-weight="normal" fill="#605E5C" text-anchor="end">1000</text>
<line x1="112.1" y1="2686.7" x2="994.8" y2="2686.7" class="g"/>
<text x="88.1" y="2696.0" font-size="25.5" font-weight="normal" fill="#605E5C" text-anchor="end">1005</text>
<line x1="112.1" y1="2592.7" x2="994.8" y2="2592.7" class="g"/>
<text x="88.1" y="2602.0" font-size="25.5" font-weight="normal" fill="#605E5C" text-anchor="end">1010</text>
<line x1="112.1" y1="2498.6" x2="994.8" y2="2498.6" class="g"/>
<text x="88.1" y="2507.9" font-size="25.5" font-weight="normal" fill="#605E5C" text-anchor="end">1015</text>
<line x1="112.1" y1="2404.6" x2="994.8" y2="2404.6" class="g"/>
<text x="88.1" y="2413.9" font-size="25.5" font-weight="normal" fill="#605E5C" text-anchor="end">1020</text>
<line x1="112.1" y1="2310.5" x2="994.8" y2="2310.5" class="g"/>
<text x="88.1" y="2319.8" font-size="25.5" font-weight="normal" fill="#605E5C" text-anchor="end">1025</text>
<line x1="112.1" y1="2216.5" x2="994.8" y2="2216.5" class="g"/>
<text x="88.1" y="2225.8" font-size="25.5" font-weight="normal" fill="#605E5C" text-anchor="end">1030</text>
<line x1="112.1" y1="2122.4" x2="994.8" y2="2122.4" class="g"/>
<text x="88.1" y="2131.7" font-size="25.5" font-weight="normal" fill="#605E5C" text-anchor="end">1035</text>
<line x1="112.1" y1="2122.4" x2="112.1" y2="2781.8" class="g"/>
<text x="112.1" y="2815.0" font-size="25.5" font-weight="normal" fill="#605E5C" text-anchor="middle">0</text>
<line x1="332.5" y1="2122.4" x2="332.5" y2="2781.8" class="g"/>
<text x="332.5" y="2815.0" font-size="25.5" font-weight="normal" fill="#605E5C" text-anchor="middle">2</text>
<line x1="552.9" y1="2122.4" x2="552.9" y2="2781.8" class="g"/>
<text x="552.9" y="2815.0" font-size="25.5" font-weight="normal" fill="#605E5C" text-anchor="middle">4</text>
<line x1="773.3" y1="2122.4" x2="773.3" y2="2781.8" class="g"/>
<text x="773.3" y="2815.0" font-size="25.5" font-weight="normal" fill="#605E5C" text-anchor="middle">6</text>
<line x1="993.7" y1="2122.4" x2="993.7" y2="2781.8" class="g"/>
<text x="993.7" y="2815.0" font-size="25.5" font-weight="normal" fill="#605E5C" text-anchor="middle">8</text>
<g clip-path="url(#scclip)" fill-opacity=".88">
<circle cx="112.1" cy="2141.2" r="7" fill="#FFD92F"/>
<circle cx="112.1" cy="2160.0" r="9" fill="#FFD92F"/>
<circle cx="112.1" cy="2178.8" r="11" fill="#FFD92F"/>
<circle cx="112.1" cy="2197.6" r="12" fill="#FFD92F"/>
<circle cx="112.1" cy="2216.5" r="13" fill="#FFD92F"/>
<circle cx="112.1" cy="2235.3" r="13" fill="#FFD92F"/>
<circle cx="112.1" cy="2254.1" r="12.5" fill="#FFD92F"/>
<circle cx="112.1" cy="2291.7" r="13" fill="#FFD92F"/>
<circle cx="112.1" cy="2310.5" r="14" fill="#FFD92F"/>
<circle cx="112.1" cy="2329.3" r="15" fill="#FFD92F"/>
<circle cx="112.1" cy="2348.1" r="19" fill="#FFD92F"/>
<circle cx="112.1" cy="2366.9" r="20" fill="#FFD92F"/>
<circle cx="112.1" cy="2385.7" r="20" fill="#FFD92F"/>
<circle cx="112.1" cy="2404.6" r="22" fill="#FFD92F"/>
<circle cx="112.1" cy="2423.4" r="20" fill="#FFD92F"/>
<circle cx="112.1" cy="2442.2" r="16" fill="#FFD92F"/>
<circle cx="112.1" cy="2461.0" r="16" fill="#FFD92F"/>
<circle cx="112.1" cy="2479.8" r="16" fill="#FFD92F"/>
<circle cx="112.1" cy="2498.6" r="16" fill="#FFD92F"/>
<circle cx="112.1" cy="2517.4" r="16" fill="#FFD92F"/>
<circle cx="112.1" cy="2536.2" r="16" fill="#FFD92F"/>
<circle cx="112.1" cy="2555.0" r="16" fill="#FFD92F"/>
<circle cx="112.1" cy="2573.8" r="16" fill="#FFD92F"/>
<circle cx="112.1" cy="2592.7" r="16" fill="#FFD92F"/>
<circle cx="112.1" cy="2611.5" r="16" fill="#FFD92F"/>
<circle cx="112.1" cy="2630.3" r="15" fill="#FFD92F"/>
<circle cx="112.1" cy="2649.1" r="7" fill="#FFD92F"/>
<circle cx="112.1" cy="2667.9" r="12" fill="#FFD92F"/>
<circle cx="112.1" cy="2686.7" r="9" fill="#FFD92F"/>
<circle cx="112.1" cy="2705.5" r="9" fill="#FFD92F"/>
<circle cx="112.1" cy="2724.3" r="8" fill="#FFD92F"/>
<circle cx="112.1" cy="2254.1" r="7.5" fill="#76B09A"/>
<circle cx="112.1" cy="2272.9" r="12" fill="#FFE25E"/>
<circle cx="112.1" cy="2291.7" r="10" fill="#8DB587"/>
<circle cx="112.1" cy="2310.5" r="12" fill="#76B09A"/>
<circle cx="112.1" cy="2329.3" r="11.7" fill="#76B09A"/>
<circle cx="112.1" cy="2348.1" r="12" fill="#76B09A"/>
<circle cx="112.1" cy="2366.9" r="14" fill="#FFE25E"/>
<circle cx="112.1" cy="2404.6" r="17" fill="#FFE25E"/>
<circle cx="112.1" cy="2423.4" r="18" fill="#76B09A"/>
<circle cx="112.1" cy="2573.8" r="10" fill="#FFE25E"/>
<circle cx="112.1" cy="2592.7" r="15" fill="#76B09A"/>
<circle cx="112.1" cy="2649.1" r="10" fill="#FFE25E"/>
<circle cx="112.1" cy="2667.9" r="8" fill="#76B09A"/>
<circle cx="112.1" cy="2686.7" r="7.3" fill="#76B09A"/>
<circle cx="112.1" cy="2705.5" r="7.3" fill="#76B09A"/>
<circle cx="112.1" cy="2724.3" r="7.3" fill="#76B09A"/>
<circle cx="112.1" cy="2743.1" r="7.3" fill="#76B09A"/>
<circle cx="123.1" cy="2366.9" r="7.3" fill="#76B09A"/>
<circle cx="134.1" cy="2366.9" r="7.3" fill="#FFD92F"/>
<circle cx="123.1" cy="2385.7" r="7.3" fill="#76B09A"/>
<circle cx="134.1" cy="2385.7" r="7.3" fill="#FFD92F"/>
<circle cx="145.2" cy="2404.6" r="7.3" fill="#76B09A"/>
<circle cx="156.2" cy="2404.6" r="7.3" fill="#FFD92F"/>
<circle cx="123.1" cy="2423.4" r="7.3" fill="#76B09A"/>
<circle cx="167.2" cy="2423.4" r="7.3" fill="#FFD92F"/>
<circle cx="178.2" cy="2423.4" r="7.3" fill="#FFD92F"/>
<circle cx="123.1" cy="2442.2" r="7.3" fill="#76B09A"/>
<circle cx="134.1" cy="2442.2" r="7.3" fill="#FFD92F"/>
<circle cx="156.2" cy="2442.2" r="7.3" fill="#76B09A"/>
<circle cx="123.1" cy="2461.0" r="7.3" fill="#FFD92F"/>
<circle cx="134.1" cy="2461.0" r="7.3" fill="#FFD92F"/>
<circle cx="145.2" cy="2461.0" r="7.3" fill="#76B09A"/>
<circle cx="156.2" cy="2461.0" r="7.3" fill="#76B09A"/>
<circle cx="178.2" cy="2461.0" r="7.3" fill="#76B09A"/>
<circle cx="189.2" cy="2461.0" r="7.3" fill="#76B09A"/>
<circle cx="200.3" cy="2461.0" r="7.3" fill="#76B09A"/>
<circle cx="211.3" cy="2461.0" r="7.3" fill="#76B09A"/>
<circle cx="222.3" cy="2461.0" r="7.3" fill="#76B09A"/>
<circle cx="123.1" cy="2479.8" r="7.3" fill="#FFD92F"/>
<circle cx="134.1" cy="2479.8" r="7.3" fill="#FFD92F"/>
<circle cx="145.2" cy="2479.8" r="7.3" fill="#FFD92F"/>
<circle cx="156.2" cy="2479.8" r="7.3" fill="#8DB587"/>
<circle cx="167.2" cy="2479.8" r="7.3" fill="#76B09A"/>
<circle cx="178.2" cy="2479.8" r="7.3" fill="#76B09A"/>
<circle cx="233.3" cy="2479.8" r="7.3" fill="#76B09A"/>
<circle cx="299.4" cy="2479.8" r="7.3" fill="#76B09A"/>
<circle cx="321.5" cy="2479.8" r="7.3" fill="#8DB587"/>
<circle cx="123.1" cy="2498.6" r="7.3" fill="#FFE25E"/>
<circle cx="134.1" cy="2498.6" r="7.3" fill="#FFD92F"/>
<circle cx="145.2" cy="2498.6" r="7.3" fill="#FFE25E"/>
<circle cx="156.2" cy="2498.6" r="7.3" fill="#FFD92F"/>
<circle cx="167.2" cy="2498.6" r="7.3" fill="#76B09A"/>
<circle cx="178.2" cy="2498.6" r="7.3" fill="#76B09A"/>
<circle cx="189.2" cy="2498.6" r="7.3" fill="#76B09A"/>
<circle cx="211.3" cy="2498.6" r="7.3" fill="#76B09A"/>
<circle cx="222.3" cy="2498.6" r="7.3" fill="#8DB587"/>
<circle cx="233.3" cy="2498.6" r="7.3" fill="#8DB587"/>
<circle cx="255.4" cy="2498.6" r="7.3" fill="#76B09A"/>
<circle cx="277.4" cy="2498.6" r="7.3" fill="#76B09A"/>
<circle cx="343.5" cy="2498.6" r="7.3" fill="#76B09A"/>
<circle cx="123.1" cy="2517.4" r="7.3" fill="#76B09A"/>
<circle cx="134.1" cy="2517.4" r="7.3" fill="#76B09A"/>
<circle cx="145.2" cy="2517.4" r="7.3" fill="#76B09A"/>
<circle cx="156.2" cy="2517.4" r="7.3" fill="#76B09A"/>
<circle cx="167.2" cy="2517.4" r="7.3" fill="#76B09A"/>
<circle cx="178.2" cy="2517.4" r="7.3" fill="#76B09A"/>
<circle cx="189.2" cy="2517.4" r="7.3" fill="#76B09A"/>
<circle cx="200.3" cy="2517.4" r="7.3" fill="#FFD92F"/>
<circle cx="222.3" cy="2517.4" r="7.3" fill="#76B09A"/>
<circle cx="233.3" cy="2517.4" r="7.3" fill="#76B09A"/>
<circle cx="244.3" cy="2517.4" r="7.3" fill="#76B09A"/>
<circle cx="255.4" cy="2517.4" r="7.3" fill="#76B09A"/>
<circle cx="288.4" cy="2517.4" r="7.3" fill="#76B09A"/>
<circle cx="332.5" cy="2517.4" r="7.3" fill="#76B09A"/>
<circle cx="376.6" cy="2517.4" r="7.3" fill="#76B09A"/>
<circle cx="508.8" cy="2517.4" r="7.3" fill="#76B09A"/>
<circle cx="574.9" cy="2517.4" r="7.3" fill="#76B09A"/>
<circle cx="619.0" cy="2517.4" r="7.3" fill="#76B09A"/>
<circle cx="828.4" cy="2517.4" r="7.3" fill="#76B09A"/>
<circle cx="123.1" cy="2536.2" r="7.3" fill="#FFD92F"/>
<circle cx="134.1" cy="2536.2" r="7.3" fill="#FFD92F"/>
<circle cx="145.2" cy="2536.2" r="7.3" fill="#FFD92F"/>
<circle cx="156.2" cy="2536.2" r="7.3" fill="#76B09A"/>
<circle cx="167.2" cy="2536.2" r="7.3" fill="#76B09A"/>
<circle cx="178.2" cy="2536.2" r="7.3" fill="#76B09A"/>
<circle cx="189.2" cy="2536.2" r="7.3" fill="#76B09A"/>
<circle cx="200.3" cy="2536.2" r="7.3" fill="#76B09A"/>
<circle cx="211.3" cy="2536.2" r="7.3" fill="#76B09A"/>
<circle cx="222.3" cy="2536.2" r="7.3" fill="#76B09A"/>
<circle cx="233.3" cy="2536.2" r="7.3" fill="#76B09A"/>
<circle cx="255.4" cy="2536.2" r="7.3" fill="#76B09A"/>
<circle cx="266.4" cy="2536.2" r="7.3" fill="#76B09A"/>
<circle cx="277.4" cy="2536.2" r="7.3" fill="#76B09A"/>
<circle cx="288.4" cy="2536.2" r="7.3" fill="#76B09A"/>
<circle cx="299.4" cy="2536.2" r="7.3" fill="#76B09A"/>
<circle cx="310.5" cy="2536.2" r="7.3" fill="#76B09A"/>
<circle cx="409.6" cy="2536.2" r="7.3" fill="#76B09A"/>
<circle cx="453.7" cy="2536.2" r="7.3" fill="#76B09A"/>
<circle cx="464.7" cy="2536.2" r="7.3" fill="#76B09A"/>
<circle cx="123.1" cy="2555.0" r="7.3" fill="#FFD92F"/>
<circle cx="134.1" cy="2555.0" r="7.3" fill="#FFD92F"/>
<circle cx="145.2" cy="2555.0" r="7.3" fill="#76B09A"/>
<circle cx="156.2" cy="2555.0" r="7.3" fill="#76B09A"/>
<circle cx="167.2" cy="2555.0" r="7.3" fill="#76B09A"/>
<circle cx="178.2" cy="2555.0" r="7.3" fill="#76B09A"/>
<circle cx="189.2" cy="2555.0" r="7.3" fill="#76B09A"/>
<circle cx="200.3" cy="2555.0" r="7.3" fill="#76B09A"/>
<circle cx="211.3" cy="2555.0" r="7.3" fill="#76B09A"/>
<circle cx="222.3" cy="2555.0" r="7.3" fill="#76B09A"/>
<circle cx="233.3" cy="2555.0" r="7.3" fill="#76B09A"/>
<circle cx="255.4" cy="2555.0" r="7.3" fill="#76B09A"/>
<circle cx="266.4" cy="2555.0" r="7.3" fill="#76B09A"/>
<circle cx="310.5" cy="2555.0" r="7.3" fill="#76B09A"/>
<circle cx="376.6" cy="2555.0" r="7.3" fill="#76B09A"/>
<circle cx="398.6" cy="2555.0" r="7.3" fill="#76B09A"/>
<circle cx="464.7" cy="2555.0" r="7.3" fill="#76B09A"/>
<circle cx="652.1" cy="2555.0" r="7.3" fill="#76B09A"/>
<circle cx="123.1" cy="2573.8" r="7.3" fill="#FFE25E"/>
<circle cx="134.1" cy="2573.8" r="7.3" fill="#FFD92F"/>
<circle cx="145.2" cy="2573.8" r="7.3" fill="#76B09A"/>
<circle cx="156.2" cy="2573.8" r="7.3" fill="#FFD92F"/>
<circle cx="167.2" cy="2573.8" r="7.3" fill="#76B09A"/>
<circle cx="178.2" cy="2573.8" r="7.3" fill="#76B09A"/>
<circle cx="189.2" cy="2573.8" r="7.3" fill="#FFD92F"/>
<circle cx="200.3" cy="2573.8" r="7.3" fill="#FFD92F"/>
<circle cx="211.3" cy="2573.8" r="7.3" fill="#76B09A"/>
<circle cx="222.3" cy="2573.8" r="7.3" fill="#76B09A"/>
<circle cx="233.3" cy="2573.8" r="7.3" fill="#76B09A"/>
<circle cx="244.3" cy="2573.8" r="7.3" fill="#76B09A"/>
<circle cx="255.4" cy="2573.8" r="7.3" fill="#76B09A"/>
<circle cx="266.4" cy="2573.8" r="7.3" fill="#76B09A"/>
<circle cx="277.4" cy="2573.8" r="7.3" fill="#76B09A"/>
<circle cx="288.4" cy="2573.8" r="7.3" fill="#76B09A"/>
<circle cx="310.5" cy="2573.8" r="7.3" fill="#76B09A"/>
<circle cx="332.5" cy="2573.8" r="7.3" fill="#8DB587"/>
<circle cx="409.6" cy="2573.8" r="7.3" fill="#76B09A"/>
<circle cx="420.7" cy="2573.8" r="7.3" fill="#76B09A"/>
<circle cx="497.8" cy="2573.8" r="7.3" fill="#76B09A"/>
<circle cx="619.0" cy="2573.8" r="7.3" fill="#76B09A"/>
<circle cx="828.4" cy="2573.8" r="7.3" fill="#76B09A"/>
<circle cx="916.6" cy="2573.8" r="7.3" fill="#76B09A"/>
<circle cx="123.1" cy="2592.7" r="7.3" fill="#76B09A"/>
<circle cx="134.1" cy="2592.7" r="7.3" fill="#76B09A"/>
<circle cx="145.2" cy="2592.7" r="7.3" fill="#FFD92F"/>
<circle cx="156.2" cy="2592.7" r="7.3" fill="#FFD92F"/>
<circle cx="167.2" cy="2592.7" r="7.3" fill="#76B09A"/>
<circle cx="178.2" cy="2592.7" r="7.3" fill="#FFE25E"/>
<circle cx="189.2" cy="2592.7" r="7.3" fill="#76B09A"/>
<circle cx="200.3" cy="2592.7" r="7.3" fill="#76B09A"/>
<circle cx="211.3" cy="2592.7" r="7.3" fill="#76B09A"/>
<circle cx="222.3" cy="2592.7" r="7.3" fill="#76B09A"/>
<circle cx="233.3" cy="2592.7" r="7.3" fill="#76B09A"/>
<circle cx="255.4" cy="2592.7" r="7.3" fill="#76B09A"/>
<circle cx="266.4" cy="2592.7" r="7.3" fill="#76B09A"/>
<circle cx="277.4" cy="2592.7" r="7.3" fill="#76B09A"/>
<circle cx="310.5" cy="2592.7" r="7.3" fill="#76B09A"/>
<circle cx="332.5" cy="2592.7" r="7.3" fill="#76B09A"/>
<circle cx="343.5" cy="2592.7" r="7.3" fill="#76B09A"/>
<circle cx="365.6" cy="2592.7" r="7.3" fill="#76B09A"/>
<circle cx="376.6" cy="2592.7" r="7.3" fill="#76B09A"/>
<circle cx="387.6" cy="2592.7" r="7.3" fill="#FFD92F"/>
<circle cx="442.7" cy="2592.7" r="7.3" fill="#FFD92F"/>
<circle cx="453.7" cy="2592.7" r="7.3" fill="#76B09A"/>
<circle cx="464.7" cy="2592.7" r="7.3" fill="#76B09A"/>
<circle cx="574.9" cy="2592.7" r="7.3" fill="#76B09A"/>
<circle cx="586.0" cy="2592.7" r="7.3" fill="#76B09A"/>
<circle cx="630.0" cy="2592.7" r="7.3" fill="#76B09A"/>
<circle cx="729.2" cy="2592.7" r="7.3" fill="#76B09A"/>
<circle cx="773.3" cy="2592.7" r="7.3" fill="#FFD92F"/>
<circle cx="960.6" cy="2592.7" r="7.3" fill="#76B09A"/>
<circle cx="123.1" cy="2611.5" r="7.3" fill="#FFD92F"/>
<circle cx="134.1" cy="2611.5" r="7.3" fill="#FFD92F"/>
<circle cx="145.2" cy="2611.5" r="7.3" fill="#FFD92F"/>
<circle cx="156.2" cy="2611.5" r="7.3" fill="#FFD92F"/>
<circle cx="167.2" cy="2611.5" r="7.3" fill="#76B09A"/>
<circle cx="178.2" cy="2611.5" r="7.3" fill="#FFE25E"/>
<circle cx="189.2" cy="2611.5" r="7.3" fill="#8DB587"/>
<circle cx="200.3" cy="2611.5" r="7.3" fill="#FFD92F"/>
<circle cx="211.3" cy="2611.5" r="7.3" fill="#76B09A"/>
<circle cx="222.3" cy="2611.5" r="7.3" fill="#8DB587"/>
<circle cx="233.3" cy="2611.5" r="7.3" fill="#FFE25E"/>
<circle cx="244.3" cy="2611.5" r="7.3" fill="#76B09A"/>
<circle cx="255.4" cy="2611.5" r="7.3" fill="#76B09A"/>
<circle cx="266.4" cy="2611.5" r="7.3" fill="#76B09A"/>
<circle cx="332.5" cy="2611.5" r="7.3" fill="#8DB587"/>
<circle cx="453.7" cy="2611.5" r="7.3" fill="#8DB587"/>
<circle cx="541.9" cy="2611.5" r="7.3" fill="#76B09A"/>
<circle cx="123.1" cy="2630.3" r="7.3" fill="#FFD92F"/>
<circle cx="134.1" cy="2630.3" r="7.3" fill="#FFE25E"/>
<circle cx="145.2" cy="2630.3" r="7.3" fill="#FFD92F"/>
<circle cx="156.2" cy="2630.3" r="7.3" fill="#FFE25E"/>
<circle cx="167.2" cy="2630.3" r="7.3" fill="#FFE25E"/>
<circle cx="178.2" cy="2630.3" r="7.3" fill="#76B09A"/>
<circle cx="189.2" cy="2630.3" r="7.3" fill="#76B09A"/>
<circle cx="200.3" cy="2630.3" r="7.3" fill="#FFE25E"/>
<circle cx="211.3" cy="2630.3" r="7.3" fill="#76B09A"/>
<circle cx="222.3" cy="2630.3" r="7.3" fill="#76B09A"/>
<circle cx="233.3" cy="2630.3" r="7.3" fill="#76B09A"/>
<circle cx="244.3" cy="2630.3" r="7.3" fill="#76B09A"/>
<circle cx="255.4" cy="2630.3" r="7.3" fill="#FFD92F"/>
<circle cx="299.4" cy="2630.3" r="7.3" fill="#FFE25E"/>
<circle cx="376.6" cy="2630.3" r="7.3" fill="#76B09A"/>
<circle cx="552.9" cy="2630.3" r="7.3" fill="#76B09A"/>
<circle cx="123.1" cy="2649.1" r="7.3" fill="#76B09A"/>
<circle cx="134.1" cy="2649.1" r="7.3" fill="#76B09A"/>
<circle cx="145.2" cy="2649.1" r="7.3" fill="#76B09A"/>
<circle cx="156.2" cy="2649.1" r="7.3" fill="#76B09A"/>
<circle cx="167.2" cy="2649.1" r="7.3" fill="#76B09A"/>
<circle cx="178.2" cy="2649.1" r="7.3" fill="#76B09A"/>
<circle cx="189.2" cy="2649.1" r="7.3" fill="#76B09A"/>
<circle cx="200.3" cy="2649.1" r="7.3" fill="#76B09A"/>
<circle cx="211.3" cy="2649.1" r="7.3" fill="#76B09A"/>
<circle cx="244.3" cy="2649.1" r="7.3" fill="#76B09A"/>
<circle cx="123.1" cy="2667.9" r="7.3" fill="#76B09A"/>
<circle cx="134.1" cy="2667.9" r="7.3" fill="#76B09A"/>
<circle cx="145.2" cy="2667.9" r="7.3" fill="#76B09A"/>
<circle cx="156.2" cy="2667.9" r="7.3" fill="#76B09A"/>
<circle cx="233.3" cy="2667.9" r="7.3" fill="#76B09A"/>
<circle cx="123.1" cy="2686.7" r="7.3" fill="#76B09A"/>
<circle cx="134.1" cy="2686.7" r="7.3" fill="#76B09A"/>
<circle cx="145.2" cy="2686.7" r="7.3" fill="#76B09A"/>
<circle cx="156.2" cy="2686.7" r="7.3" fill="#76B09A"/>
<circle cx="178.2" cy="2686.7" r="7.3" fill="#76B09A"/>
<circle cx="189.2" cy="2686.7" r="7.3" fill="#76B09A"/>
<circle cx="211.3" cy="2686.7" r="7.3" fill="#76B09A"/>
<circle cx="134.1" cy="2705.5" r="7.3" fill="#76B09A"/>
<circle cx="145.2" cy="2705.5" r="7.3" fill="#76B09A"/>
<circle cx="156.2" cy="2705.5" r="7.3" fill="#76B09A"/>
<circle cx="167.2" cy="2705.5" r="7.3" fill="#76B09A"/>
<circle cx="178.2" cy="2705.5" r="7.3" fill="#76B09A"/>
<circle cx="134.1" cy="2724.3" r="7.3" fill="#76B09A"/>
<circle cx="145.2" cy="2724.3" r="7.3" fill="#76B09A"/>
<circle cx="145.2" cy="2743.1" r="7.3" fill="#76B09A"/>
</g>
<rect x="174.3" y="2079.1" width="699.0" height="27.5" fill="#FFD92F"/>
<text x="183.5" y="2082.7" font-size="28.6" font-weight="normal" fill="#252423" textLength="666.6" lengthAdjust="spacingAndGlyphs">RAIN (MM) VERSUS PRESSURE (HPA) PER MONTH</text>
<text x="106.2" y="2912.5" font-size="38.1" font-weight="bold" fill="#252423" textLength="137.8" lengthAdjust="spacingAndGlyphs">Legend</text>
<rect x="95.9" y="2970.0" width="92.1" height="29.3" fill="#1078B4"/>
<text x="108.3" y="2975.6" font-size="38.1" font-weight="bold" fill="#252423" textLength="61.8" lengthAdjust="spacingAndGlyphs">Jan</text>
<rect x="256.3" y="2970.0" width="92.1" height="29.3" fill="#4093C3"/>
<text x="266.7" y="2975.6" font-size="38.1" font-weight="bold" fill="#252423" textLength="66.9" lengthAdjust="spacingAndGlyphs">Feb</text>
<rect x="416.7" y="2970.0" width="92.1" height="29.3" fill="#70AED2"/>
<text x="426.7" y="2975.6" font-size="38.1" font-weight="bold" fill="#252423" textLength="75.3" lengthAdjust="spacingAndGlyphs">Mar</text>
<rect x="577.0" y="2970.0" width="92.1" height="29.3" fill="#1D8054"/>
<text x="589.0" y="2975.6" font-size="38.1" font-weight="bold" fill="#252423" textLength="66.3" lengthAdjust="spacingAndGlyphs">Apr</text>
<rect x="737.4" y="2970.0" width="92.1" height="29.3" fill="#4A9877"/>
<text x="747.6" y="2975.6" font-size="38.1" font-weight="bold" fill="#252423" textLength="79.8" lengthAdjust="spacingAndGlyphs">May</text>
<rect x="897.8" y="2970.0" width="92.1" height="29.3" fill="#76B09A"/>
<text x="910.1" y="2975.6" font-size="38.1" font-weight="bold" fill="#252423" textLength="64.6" lengthAdjust="spacingAndGlyphs">Jun</text>
<rect x="95.9" y="3067.1" width="92.1" height="29.3" fill="#FFD92F"/>
<text x="108.2" y="3073.3" font-size="38.1" font-weight="bold" fill="#252423" textLength="52.9" lengthAdjust="spacingAndGlyphs">Jul</text>
<rect x="256.3" y="3067.1" width="92.1" height="29.3" fill="#FFE159"/>
<text x="268.2" y="3073.3" font-size="38.1" font-weight="bold" fill="#252423" textLength="76.4" lengthAdjust="spacingAndGlyphs">Aug</text>
<rect x="416.7" y="3067.1" width="92.1" height="29.3" fill="#FFE983"/>
<text x="428.5" y="3073.3" font-size="38.1" font-weight="bold" fill="#252423" textLength="67.4" lengthAdjust="spacingAndGlyphs">Sep</text>
<rect x="577.0" y="3067.1" width="92.1" height="29.3" fill="#F79646"/>
<text x="588.3" y="3073.3" font-size="38.1" font-weight="bold" fill="#252423" textLength="64.9" lengthAdjust="spacingAndGlyphs">Oct</text>
<rect x="737.4" y="3067.1" width="92.1" height="29.3" fill="#F9AB6B"/>
<text x="747.6" y="3073.3" font-size="38.1" font-weight="bold" fill="#252423" textLength="75.7" lengthAdjust="spacingAndGlyphs">Nov</text>
<rect x="897.8" y="3067.1" width="92.1" height="29.3" fill="#FBC090"/>
<text x="908.1" y="3073.3" font-size="38.1" font-weight="bold" fill="#252423" textLength="70.5" lengthAdjust="spacingAndGlyphs">Dec</text>
<rect x="90.9" y="3169.2" width="919.9" height="26.3" fill="#FFD92F"/>
<text x="96.0" y="3181.5" font-size="59.2" font-weight="bold" fill="#252423" textLength="459.9" lengthAdjust="spacingAndGlyphs">Last data refresh</text>
<text x="625.7" y="3181.5" font-size="59.2" font-weight="bold" fill="#252423" textLength="286.3" lengthAdjust="spacingAndGlyphs">8/22/2022</text>
<line x1="1110.4" y1="1726.4" x2="1917.4" y2="1726.4" class="g"/>
<text x="1087.8" y="1735.4" font-size="25.5" font-weight="normal" fill="#605E5C" text-anchor="end">1,040</text>
<line x1="1110.4" y1="1856.2" x2="1917.4" y2="1856.2" class="g"/>
<text x="1087.8" y="1865.2" font-size="25.5" font-weight="normal" fill="#605E5C" text-anchor="end">1,020</text>
<line x1="1110.4" y1="1985.9" x2="1917.4" y2="1985.9" class="g"/>
<text x="1087.8" y="1994.9" font-size="25.5" font-weight="normal" fill="#605E5C" text-anchor="end">1,000</text>
<text x="1361.0" y="2020.8" font-size="25.5" font-weight="normal" fill="#605E5C" text-anchor="middle">10</text>
<text x="1615.5" y="2020.8" font-size="25.5" font-weight="normal" fill="#605E5C" text-anchor="middle">20</text>
<text x="1870.0" y="2020.8" font-size="25.5" font-weight="normal" fill="#605E5C" text-anchor="middle">30</text>
<polyline fill="none" stroke="#FFE25E" stroke-width="4.4" stroke-linejoin="round" stroke-linecap="round" points="1131.6,1854.9 1157.0,1866.5 1182.5,1885.3 1207.9,1873.0 1233.3,1833.4 1258.8,1815.9 1284.2,1829.6 1309.6,1830.8 1335.0,1827.0 1360.5,1850.3 1385.9,1875.6 1411.3,1891.8 1436.8,1917.1 1462.2,1941.8 1487.6,1951.5 1513.0,1946.3 1538.5,1914.5 1563.9,1876.3 1589.3,1863.3 1614.8,1855.5 1640.2,1877.6 1665.6,1889.9"/>
<path d="M1131.6 1854.9h0M1157.0 1866.5h0M1182.5 1885.3h0M1207.9 1873.0h0M1233.3 1833.4h0M1258.8 1815.9h0M1284.2 1829.6h0M1309.6 1830.8h0M1335.0 1827.0h0M1360.5 1850.3h0M1385.9 1875.6h0M1411.3 1891.8h0M1436.8 1917.1h0M1462.2 1941.8h0M1487.6 1951.5h0M1513.0 1946.3h0M1538.5 1914.5h0M1563.9 1876.3h0M1589.3 1863.3h0M1614.8 1855.5h0M1640.2 1877.6h0M1665.6 1889.9h0" stroke="#FFE25E" stroke-width="6.9" stroke-linecap="round" fill="none"/>
<polyline fill="none" stroke="#FFD92F" stroke-width="4.4" stroke-linejoin="round" stroke-linecap="round" points="1131.6,1856.8 1157.0,1850.3 1182.5,1839.3 1207.9,1829.6 1233.3,1812.7 1258.8,1797.8 1284.2,1791.3 1309.6,1779.6 1335.0,1799.1 1360.5,1828.9 1385.9,1852.3 1411.3,1843.8 1436.8,1843.8 1462.2,1835.4 1487.6,1837.3 1513.0,1843.2 1538.5,1850.3 1563.9,1884.7 1589.3,1904.2 1614.8,1862.6 1640.2,1841.9 1665.6,1857.4 1691.1,1849.7 1716.5,1879.5 1741.9,1877.6 1767.3,1850.3 1792.8,1864.6 1818.2,1886.6 1843.6,1869.1 1869.1,1846.4 1894.5,1850.3"/>
<path d="M1131.6 1856.8h0M1157.0 1850.3h0M1182.5 1839.3h0M1207.9 1829.6h0M1233.3 1812.7h0M1258.8 1797.8h0M1284.2 1791.3h0M1309.6 1779.6h0M1335.0 1799.1h0M1360.5 1828.9h0M1385.9 1852.3h0M1411.3 1843.8h0M1436.8 1843.8h0M1462.2 1835.4h0M1487.6 1837.3h0M1513.0 1843.2h0M1538.5 1850.3h0M1563.9 1884.7h0M1589.3 1904.2h0M1614.8 1862.6h0M1640.2 1841.9h0M1665.6 1857.4h0M1691.1 1849.7h0M1716.5 1879.5h0M1741.9 1877.6h0M1767.3 1850.3h0M1792.8 1864.6h0M1818.2 1886.6h0M1843.6 1869.1h0M1869.1 1846.4h0M1894.5 1850.3h0" stroke="#FFD92F" stroke-width="6.9" stroke-linecap="round" fill="none"/>
<polyline fill="none" stroke="#76B09A" stroke-width="4.4" stroke-linejoin="round" stroke-linecap="round" points="1131.6,1875.6 1157.0,1882.1 1182.5,1897.7 1207.9,1893.1 1233.3,1875.0 1258.8,1879.5 1284.2,1897.0 1309.6,1907.4 1335.0,1862.0 1360.5,1844.5 1385.9,1827.0 1411.3,1816.6 1436.8,1821.1 1462.2,1863.3 1487.6,1870.4 1513.0,1850.3 1538.5,1853.6 1563.9,1895.7 1589.3,1922.3 1614.8,1897.7 1640.2,1910.0 1665.6,1916.5 1691.1,1919.1 1716.5,1939.8 1741.9,1926.9 1767.3,1900.3 1792.8,1860.0 1818.2,1869.1 1843.6,1898.3 1869.1,1893.1"/>
<path d="M1131.6 1875.6h0M1157.0 1882.1h0M1182.5 1897.7h0M1207.9 1893.1h0M1233.3 1875.0h0M1258.8 1879.5h0M1284.2 1897.0h0M1309.6 1907.4h0M1335.0 1862.0h0M1360.5 1844.5h0M1385.9 1827.0h0M1411.3 1816.6h0M1436.8 1821.1h0M1462.2 1863.3h0M1487.6 1870.4h0M1513.0 1850.3h0M1538.5 1853.6h0M1563.9 1895.7h0M1589.3 1922.3h0M1614.8 1897.7h0M1640.2 1910.0h0M1665.6 1916.5h0M1691.1 1919.1h0M1716.5 1939.8h0M1741.9 1926.9h0M1767.3 1900.3h0M1792.8 1860.0h0M1818.2 1869.1h0M1843.6 1898.3h0M1869.1 1893.1h0" stroke="#76B09A" stroke-width="6.9" stroke-linecap="round" fill="none"/>
<rect x="1278.8" y="1679.9" width="378.4" height="28.8" fill="#FFD92F"/>
<text x="1299.4" y="1686.7" font-size="28.8" font-weight="normal" fill="#252423" textLength="341.3" lengthAdjust="spacingAndGlyphs">PRESSURE (HPA) PER DAY</text>
<line x1="1998.0" y1="1726.3" x2="2819.5" y2="1726.3" class="g"/>
<text x="1976.4" y="1735.3" font-size="25.5" font-weight="normal" fill="#605E5C" text-anchor="end">100</text>
<line x1="1998.0" y1="1942.8" x2="2819.5" y2="1942.8" class="g"/>
<text x="1976.4" y="1951.8" font-size="25.5" font-weight="normal" fill="#605E5C" text-anchor="end">50</text>
<text x="2256.0" y="2019.8" font-size="25.5" font-weight="normal" fill="#605E5C" text-anchor="middle">10</text>
<text x="2517.0" y="2019.8" font-size="25.5" font-weight="normal" fill="#605E5C" text-anchor="middle">20</text>
<text x="2778.0" y="2019.8" font-size="25.5" font-weight="normal" fill="#605E5C" text-anchor="middle">30</text>
<polyline fill="none" stroke="#FFE25E" stroke-width="4.4" stroke-linejoin="round" stroke-linecap="round" points="2020.0,1801.6 2046.1,1806.8 2072.3,1808.6 2098.4,1845.4 2124.5,1888.7 2150.7,1887.8 2176.8,1890.8 2202.9,1890.4 2229.0,1873.1 2255.2,1877.8 2281.3,1910.3 2307.4,1923.3 2333.6,1906.4 2359.7,1799.9 2385.8,1802.9 2411.9,1799.5 2438.1,1791.7 2464.2,1796.9 2490.3,1793.8 2516.5,1844.9 2542.6,1776.1 2568.7,1766.6"/>
<path d="M2020.0 1801.6h0M2046.1 1806.8h0M2072.3 1808.6h0M2098.4 1845.4h0M2124.5 1888.7h0M2150.7 1887.8h0M2176.8 1890.8h0M2202.9 1890.4h0M2229.0 1873.1h0M2255.2 1877.8h0M2281.3 1910.3h0M2307.4 1923.3h0M2333.6 1906.4h0M2359.7 1799.9h0M2385.8 1802.9h0M2411.9 1799.5h0M2438.1 1791.7h0M2464.2 1796.9h0M2490.3 1793.8h0M2516.5 1844.9h0M2542.6 1776.1h0M2568.7 1766.6h0" stroke="#FFE25E" stroke-width="6.9" stroke-linecap="round" fill="none"/>
<polyline fill="none" stroke="#FFD92F" stroke-width="4.4" stroke-linejoin="round" stroke-linecap="round" points="2020.0,1840.6 2046.1,1834.1 2072.3,1829.4 2098.4,1836.3 2124.5,1832.4 2150.7,1816.8 2176.8,1809.0 2202.9,1845.4 2229.0,1845.4 2255.2,1878.7 2281.3,1886.5 2307.4,1891.3 2333.6,1873.1 2359.7,1870.5 2385.8,1875.7 2411.9,1906.4 2438.1,1942.4 2464.2,1961.4 2490.3,1845.4 2516.5,1802.9 2542.6,1846.2 2568.7,1836.7 2594.9,1833.3 2621.0,1841.9 2647.1,1821.1 2673.2,1860.1 2699.4,1865.7 2725.5,1866.6 2751.6,1866.6 2777.8,1815.5 2803.9,1798.6"/>
<path d="M2020.0 1840.6h0M2046.1 1834.1h0M2072.3 1829.4h0M2098.4 1836.3h0M2124.5 1832.4h0M2150.7 1816.8h0M2176.8 1809.0h0M2202.9 1845.4h0M2229.0 1845.4h0M2255.2 1878.7h0M2281.3 1886.5h0M2307.4 1891.3h0M2333.6 1873.1h0M2359.7 1870.5h0M2385.8 1875.7h0M2411.9 1906.4h0M2438.1 1942.4h0M2464.2 1961.4h0M2490.3 1845.4h0M2516.5 1802.9h0M2542.6 1846.2h0M2568.7 1836.7h0M2594.9 1833.3h0M2621.0 1841.9h0M2647.1 1821.1h0M2673.2 1860.1h0M2699.4 1865.7h0M2725.5 1866.6h0M2751.6 1866.6h0M2777.8 1815.5h0M2803.9 1798.6h0" stroke="#FFD92F" stroke-width="6.9" stroke-linecap="round" fill="none"/>
<polyline fill="none" stroke="#76B09A" stroke-width="4.4" stroke-linejoin="round" stroke-linecap="round" points="2020.0,1857.1 2046.1,1846.2 2072.3,1802.1 2098.4,1789.5 2124.5,1818.1 2150.7,1784.3 2176.8,1780.0 2202.9,1803.4 2229.0,1807.3 2255.2,1788.7 2281.3,1826.8 2307.4,1835.8 2333.6,1850.6 2359.7,1851.9 2385.8,1846.7 2411.9,1874.4 2438.1,1874.0 2464.2,1840.6 2490.3,1783.0 2516.5,1798.2 2542.6,1807.7 2568.7,1793.8 2594.9,1791.7 2621.0,1795.1 2647.1,1847.1 2673.2,1850.6 2699.4,1835.4 2725.5,1835.8 2751.6,1815.5 2777.8,1832.0"/>
<path d="M2020.0 1857.1h0M2046.1 1846.2h0M2072.3 1802.1h0M2098.4 1789.5h0M2124.5 1818.1h0M2150.7 1784.3h0M2176.8 1780.0h0M2202.9 1803.4h0M2229.0 1807.3h0M2255.2 1788.7h0M2281.3 1826.8h0M2307.4 1835.8h0M2333.6 1850.6h0M2359.7 1851.9h0M2385.8 1846.7h0M2411.9 1874.4h0M2438.1 1874.0h0M2464.2 1840.6h0M2490.3 1783.0h0M2516.5 1798.2h0M2542.6 1807.7h0M2568.7 1793.8h0M2594.9 1791.7h0M2621.0 1795.1h0M2647.1 1847.1h0M2673.2 1850.6h0M2699.4 1835.4h0M2725.5 1835.8h0M2751.6 1815.5h0M2777.8 1832.0h0" stroke="#76B09A" stroke-width="6.9" stroke-linecap="round" fill="none"/>
<rect x="2193.6" y="1679.9" width="378.4" height="28.8" fill="#FFD92F"/>
<text x="2221.2" y="1686.7" font-size="28.8" font-weight="normal" fill="#252423" textLength="313.3" lengthAdjust="spacingAndGlyphs">HUMIDITY (%) PER DAY</text>
<line x1="1090.9" y1="2122.3" x2="1917.4" y2="2122.3" class="g"/>
<text x="1069.3" y="2131.3" font-size="25.5" font-weight="normal" fill="#605E5C" text-anchor="end">100</text>
<line x1="1090.9" y1="2250.6" x2="1917.4" y2="2250.6" class="g"/>
<text x="1069.3" y="2259.6" font-size="25.5" font-weight="normal" fill="#605E5C" text-anchor="end">50</text>
<line x1="1090.9" y1="2378.8" x2="1917.4" y2="2378.8" class="g"/>
<text x="1069.3" y="2387.8" font-size="25.5" font-weight="normal" fill="#605E5C" text-anchor="end">0</text>
<text x="1347.5" y="2417.0" font-size="25.5" font-weight="normal" fill="#605E5C" text-anchor="middle">10</text>
<text x="1608.5" y="2417.0" font-size="25.5" font-weight="normal" fill="#605E5C" text-anchor="middle">20</text>
<text x="1870.0" y="2417.0" font-size="25.5" font-weight="normal" fill="#605E5C" text-anchor="middle">30</text>
<polyline fill="none" stroke="#FFE25E" stroke-width="4.4" stroke-linejoin="round" stroke-linecap="round" points="1111.9,2213.4 1138.0,2243.9 1164.1,2296.7 1190.2,2263.9 1216.3,2350.3 1242.4,2358.3 1268.5,2360.8 1294.6,2244.4 1320.7,2314.2 1346.8,2371.9 1372.9,2377.5 1399.0,2375.5 1425.1,2262.3 1451.2,2152.8 1477.3,2159.2 1503.4,2182.3 1529.5,2240.8 1555.6,2223.6 1581.7,2225.9 1607.8,2252.3 1633.9,2132.3 1660.0,2152.3"/>
<path d="M1111.9 2213.4h0M1138.0 2243.9h0M1164.1 2296.7h0M1190.2 2263.9h0M1216.3 2350.3h0M1242.4 2358.3h0M1268.5 2360.8h0M1294.6 2244.4h0M1320.7 2314.2h0M1346.8 2371.9h0M1372.9 2377.5h0M1399.0 2375.5h0M1425.1 2262.3h0M1451.2 2152.8h0M1477.3 2159.2h0M1503.4 2182.3h0M1529.5 2240.8h0M1555.6 2223.6h0M1581.7 2225.9h0M1607.8 2252.3h0M1633.9 2132.3h0M1660.0 2152.3h0" stroke="#FFE25E" stroke-width="6.9" stroke-linecap="round" fill="none"/>
<polyline fill="none" stroke="#FFD92F" stroke-width="4.4" stroke-linejoin="round" stroke-linecap="round" points="1111.9,2300.3 1138.0,2284.7 1164.1,2323.1 1190.2,2330.3 1216.3,2343.4 1242.4,2304.4 1268.5,2321.9 1294.6,2332.6 1320.7,2367.5 1346.8,2311.9 1372.9,2342.4 1399.0,2206.7 1425.1,2243.4 1451.2,2239.5 1477.3,2250.0 1503.4,2205.7 1529.5,2224.1 1555.6,2327.5 1581.7,2282.4 1607.8,2235.7 1633.9,2250.6 1660.0,2287.7 1686.1,2269.5 1712.2,2302.4 1738.3,2243.4 1764.4,2236.7 1790.5,2223.6 1816.6,2180.0 1842.7,2263.1 1868.8,2257.7 1894.9,2302.4"/>
<path d="M1111.9 2300.3h0M1138.0 2284.7h0M1164.1 2323.1h0M1190.2 2330.3h0M1216.3 2343.4h0M1242.4 2304.4h0M1268.5 2321.9h0M1294.6 2332.6h0M1320.7 2367.5h0M1346.8 2311.9h0M1372.9 2342.4h0M1399.0 2206.7h0M1425.1 2243.4h0M1451.2 2239.5h0M1477.3 2250.0h0M1503.4 2205.7h0M1529.5 2224.1h0M1555.6 2327.5h0M1581.7 2282.4h0M1607.8 2235.7h0M1633.9 2250.6h0M1660.0 2287.7h0M1686.1 2269.5h0M1712.2 2302.4h0M1738.3 2243.4h0M1764.4 2236.7h0M1790.5 2223.6h0M1816.6 2180.0h0M1842.7 2263.1h0M1868.8 2257.7h0M1894.9 2302.4h0" stroke="#FFD92F" stroke-width="6.9" stroke-linecap="round" fill="none"/>
<polyline fill="none" stroke="#76B09A" stroke-width="4.4" stroke-linejoin="round" stroke-linecap="round" points="1111.9,2263.1 1138.0,2235.7 1164.1,2282.4 1190.2,2251.6 1216.3,2247.0 1242.4,2206.2 1268.5,2189.2 1294.6,2222.3 1320.7,2254.7 1346.8,2198.5 1372.9,2312.4 1399.0,2332.4 1425.1,2344.7 1451.2,2272.1 1477.3,2306.0 1503.4,2219.5 1529.5,2323.7 1555.6,2214.6 1581.7,2143.8 1607.8,2176.2 1633.9,2204.9 1660.0,2206.7 1686.1,2213.9 1712.2,2183.6 1738.3,2265.4 1764.4,2267.2 1790.5,2229.5 1816.6,2245.2 1842.7,2191.0 1868.8,2221.1"/>
<path d="M1111.9 2263.1h0M1138.0 2235.7h0M1164.1 2282.4h0M1190.2 2251.6h0M1216.3 2247.0h0M1242.4 2206.2h0M1268.5 2189.2h0M1294.6 2222.3h0M1320.7 2254.7h0M1346.8 2198.5h0M1372.9 2312.4h0M1399.0 2332.4h0M1425.1 2344.7h0M1451.2 2272.1h0M1477.3 2306.0h0M1503.4 2219.5h0M1529.5 2323.7h0M1555.6 2214.6h0M1581.7 2143.8h0M1607.8 2176.2h0M1633.9 2204.9h0M1660.0 2206.7h0M1686.1 2213.9h0M1712.2 2183.6h0M1738.3 2265.4h0M1764.4 2267.2h0M1790.5 2229.5h0M1816.6 2245.2h0M1842.7 2191.0h0M1868.8 2221.1h0" stroke="#76B09A" stroke-width="6.9" stroke-linecap="round" fill="none"/>
<rect x="1278.8" y="2077.8" width="378.4" height="28.8" fill="#FFD92F"/>
<text x="1336.5" y="2084.5" font-size="28.8" font-weight="normal" fill="#252423" textLength="266.6" lengthAdjust="spacingAndGlyphs">CLOUD (%) PER DAY</text>
<line x1="1982.6" y1="2122.3" x2="2819.5" y2="2122.3" class="g"/>
<text x="1961.0" y="2131.3" font-size="25.5" font-weight="normal" fill="#605E5C" text-anchor="end">10</text>
<line x1="1982.6" y1="2284.6" x2="2819.5" y2="2284.6" class="g"/>
<text x="1961.0" y="2293.6" font-size="25.5" font-weight="normal" fill="#605E5C" text-anchor="end">5</text>
<text x="2245.0" y="2417.0" font-size="25.5" font-weight="normal" fill="#605E5C" text-anchor="middle">10</text>
<text x="2511.5" y="2417.0" font-size="25.5" font-weight="normal" fill="#605E5C" text-anchor="middle">20</text>
<text x="2778.0" y="2417.0" font-size="25.5" font-weight="normal" fill="#605E5C" text-anchor="middle">30</text>
<polyline fill="none" stroke="#FFE25E" stroke-width="4.4" stroke-linejoin="round" stroke-linecap="round" points="2004.5,2330.0 2031.2,2336.9 2057.8,2319.3 2084.4,2252.8 2111.1,2219.0 2137.8,2244.0 2164.4,2256.4 2191.1,2259.0 2217.7,2234.6 2244.3,2253.4 2271.0,2273.9 2297.7,2307.3 2324.3,2334.6 2350.9,2316.1 2377.6,2301.2 2404.2,2309.3 2430.9,2283.0 2457.6,2283.0 2484.2,2294.3 2510.8,2344.3 2537.5,2357.0 2564.2,2317.4"/>
<path d="M2004.5 2330.0h0M2031.2 2336.9h0M2057.8 2319.3h0M2084.4 2252.8h0M2111.1 2219.0h0M2137.8 2244.0h0M2164.4 2256.4h0M2191.1 2259.0h0M2217.7 2234.6h0M2244.3 2253.4h0M2271.0 2273.9h0M2297.7 2307.3h0M2324.3 2334.6h0M2350.9 2316.1h0M2377.6 2301.2h0M2404.2 2309.3h0M2430.9 2283.0h0M2457.6 2283.0h0M2484.2 2294.3h0M2510.8 2344.3h0M2537.5 2357.0h0M2564.2 2317.4h0" stroke="#FFE25E" stroke-width="6.9" stroke-linecap="round" fill="none"/>
<polyline fill="none" stroke="#FFD92F" stroke-width="4.4" stroke-linejoin="round" stroke-linecap="round" points="2004.5,2314.8 2031.2,2304.4 2057.8,2282.0 2084.4,2301.2 2111.1,2286.5 2137.8,2279.1 2164.4,2278.1 2191.1,2302.5 2217.7,2282.0 2244.3,2276.8 2271.0,2298.2 2297.7,2347.2 2324.3,2323.9 2350.9,2246.0 2377.6,2272.9 2404.2,2271.0 2430.9,2283.0 2457.6,2284.6 2484.2,2261.6 2510.8,2276.2 2537.5,2316.1 2564.2,2269.3 2590.8,2314.5 2617.4,2284.6 2644.1,2219.0 2670.8,2312.2 2697.4,2357.6 2724.1,2356.7 2750.7,2332.0 2777.3,2315.4 2804.0,2289.8"/>
<path d="M2004.5 2314.8h0M2031.2 2304.4h0M2057.8 2282.0h0M2084.4 2301.2h0M2111.1 2286.5h0M2137.8 2279.1h0M2164.4 2278.1h0M2191.1 2302.5h0M2217.7 2282.0h0M2244.3 2276.8h0M2271.0 2298.2h0M2297.7 2347.2h0M2324.3 2323.9h0M2350.9 2246.0h0M2377.6 2272.9h0M2404.2 2271.0h0M2430.9 2283.0h0M2457.6 2284.6h0M2484.2 2261.6h0M2510.8 2276.2h0M2537.5 2316.1h0M2564.2 2269.3h0M2590.8 2314.5h0M2617.4 2284.6h0M2644.1 2219.0h0M2670.8 2312.2h0M2697.4 2357.6h0M2724.1 2356.7h0M2750.7 2332.0h0M2777.3 2315.4h0M2804.0 2289.8h0" stroke="#FFD92F" stroke-width="6.9" stroke-linecap="round" fill="none"/>
<polyline fill="none" stroke="#76B09A" stroke-width="4.4" stroke-linejoin="round" stroke-linecap="round" points="2004.5,2324.5 2031.2,2296.3 2057.8,2311.5 2084.4,2321.0 2111.1,2269.3 2137.8,2280.1 2164.4,2223.9 2191.1,2206.4 2217.7,2265.1 2244.3,2295.3 2271.0,2315.4 2297.7,2284.0 2324.3,2291.4 2350.9,2294.0 2377.6,2309.9 2404.2,2332.0 2430.9,2354.1 2457.6,2225.2 2484.2,2138.5 2510.8,2237.9 2537.5,2281.7 2564.2,2322.3 2590.8,2338.5 2617.4,2220.3 2644.1,2231.4 2670.8,2275.5 2697.4,2289.8 2724.1,2231.4 2750.7,2276.2 2777.3,2281.0"/>
<path d="M2004.5 2324.5h0M2031.2 2296.3h0M2057.8 2311.5h0M2084.4 2321.0h0M2111.1 2269.3h0M2137.8 2280.1h0M2164.4 2223.9h0M2191.1 2206.4h0M2217.7 2265.1h0M2244.3 2295.3h0M2271.0 2315.4h0M2297.7 2284.0h0M2324.3 2291.4h0M2350.9 2294.0h0M2377.6 2309.9h0M2404.2 2332.0h0M2430.9 2354.1h0M2457.6 2225.2h0M2484.2 2138.5h0M2510.8 2237.9h0M2537.5 2281.7h0M2564.2 2322.3h0M2590.8 2338.5h0M2617.4 2220.3h0M2644.1 2231.4h0M2670.8 2275.5h0M2697.4 2289.8h0M2724.1 2231.4h0M2750.7 2276.2h0M2777.3 2281.0h0" stroke="#76B09A" stroke-width="6.9" stroke-linecap="round" fill="none"/>
<rect x="2193.6" y="2077.8" width="378.4" height="28.8" fill="#FFD92F"/>
<text x="2219.8" y="2084.5" font-size="28.8" font-weight="normal" fill="#252423" textLength="318.8" lengthAdjust="spacingAndGlyphs">WIND (KNOTS) PER DAY</text>
<line x1="1077.0" y1="2603.5" x2="1917.4" y2="2603.5" class="g"/>
<text x="1056.4" y="2612.5" font-size="25.5" font-weight="normal" fill="#605E5C" text-anchor="end">0.2</text>
<line x1="1077.0" y1="2773.0" x2="1917.4" y2="2773.0" class="g"/>
<text x="1056.4" y="2782.0" font-size="25.5" font-weight="normal" fill="#605E5C" text-anchor="end">0.0</text>
<text x="1337.5" y="2813.8" font-size="25.5" font-weight="normal" fill="#605E5C" text-anchor="middle">10</text>
<text x="1601.5" y="2813.8" font-size="25.5" font-weight="normal" fill="#605E5C" text-anchor="middle">20</text>
<text x="1865.6" y="2813.8" font-size="25.5" font-weight="normal" fill="#605E5C" text-anchor="middle">30</text>
<polyline fill="none" stroke="#FFE25E" stroke-width="4.4" stroke-linejoin="round" stroke-linecap="round" points="1099.1,2773.0 1125.5,2773.0 1151.9,2773.0 1178.4,2773.0 1204.8,2773.0 1231.2,2773.0 1257.6,2773.0 1284.0,2773.0 1310.5,2773.0 1336.9,2773.0 1363.3,2773.0 1389.7,2773.0 1416.1,2749.3 1442.6,2773.0 1469.0,2773.0 1495.4,2771.3 1521.8,2773.0 1548.2,2773.0 1574.7,2773.0 1601.1,2773.0 1627.5,2773.0 1653.9,2773.0"/>
<path d="M1099.1 2773.0h0M1125.5 2773.0h0M1151.9 2773.0h0M1178.4 2773.0h0M1204.8 2773.0h0M1231.2 2773.0h0M1257.6 2773.0h0M1284.0 2773.0h0M1310.5 2773.0h0M1336.9 2773.0h0M1363.3 2773.0h0M1389.7 2773.0h0M1416.1 2749.3h0M1442.6 2773.0h0M1469.0 2773.0h0M1495.4 2771.3h0M1521.8 2773.0h0M1548.2 2773.0h0M1574.7 2773.0h0M1601.1 2773.0h0M1627.5 2773.0h0M1653.9 2773.0h0" stroke="#FFE25E" stroke-width="6.9" stroke-linecap="round" fill="none"/>
<polyline fill="none" stroke="#FFD92F" stroke-width="4.4" stroke-linejoin="round" stroke-linecap="round" points="1099.1,2773.0 1125.5,2773.0 1151.9,2773.0 1178.4,2773.0 1204.8,2773.0 1231.2,2773.0 1257.6,2773.0 1284.0,2773.0 1310.5,2773.0 1336.9,2773.0 1363.3,2773.0 1389.7,2773.0 1416.1,2773.0 1442.6,2773.0 1469.0,2773.0 1495.4,2773.0 1521.8,2773.0 1548.2,2773.0 1574.7,2743.3 1601.1,2772.2 1627.5,2773.0 1653.9,2773.0 1680.3,2773.0 1706.8,2773.0 1733.2,2773.0 1759.6,2773.0 1786.0,2773.0 1812.4,2766.2 1838.9,2771.3 1865.3,2773.0 1891.7,2773.0"/>
<path d="M1099.1 2773.0h0M1125.5 2773.0h0M1151.9 2773.0h0M1178.4 2773.0h0M1204.8 2773.0h0M1231.2 2773.0h0M1257.6 2773.0h0M1284.0 2773.0h0M1310.5 2773.0h0M1336.9 2773.0h0M1363.3 2773.0h0M1389.7 2773.0h0M1416.1 2773.0h0M1442.6 2773.0h0M1469.0 2773.0h0M1495.4 2773.0h0M1521.8 2773.0h0M1548.2 2773.0h0M1574.7 2743.3h0M1601.1 2772.2h0M1627.5 2773.0h0M1653.9 2773.0h0M1680.3 2773.0h0M1706.8 2773.0h0M1733.2 2773.0h0M1759.6 2773.0h0M1786.0 2773.0h0M1812.4 2766.2h0M1838.9 2771.3h0M1865.3 2773.0h0M1891.7 2773.0h0" stroke="#FFD92F" stroke-width="6.9" stroke-linecap="round" fill="none"/>
<polyline fill="none" stroke="#76B09A" stroke-width="4.4" stroke-linejoin="round" stroke-linecap="round" points="1099.1,2773.0 1125.5,2762.0 1151.9,2731.5 1178.4,2740.8 1204.8,2773.0 1231.2,2758.6 1257.6,2740.8 1284.0,2745.9 1310.5,2773.0 1336.9,2773.0 1363.3,2773.0 1389.7,2773.0 1416.1,2773.0 1442.6,2773.0 1469.0,2773.0 1495.4,2773.0 1521.8,2773.0 1548.2,2692.5 1574.7,2567.9 1601.1,2749.3 1627.5,2742.5 1653.9,2704.4 1680.3,2744.2 1706.8,2754.4 1733.2,2762.0 1759.6,2768.8 1786.0,2769.6 1812.4,2767.1 1838.9,2726.4 1865.3,2755.2"/>
<path d="M1099.1 2773.0h0M1125.5 2762.0h0M1151.9 2731.5h0M1178.4 2740.8h0M1204.8 2773.0h0M1231.2 2758.6h0M1257.6 2740.8h0M1284.0 2745.9h0M1310.5 2773.0h0M1336.9 2773.0h0M1363.3 2773.0h0M1389.7 2773.0h0M1416.1 2773.0h0M1442.6 2773.0h0M1469.0 2773.0h0M1495.4 2773.0h0M1521.8 2773.0h0M1548.2 2692.5h0M1574.7 2567.9h0M1601.1 2749.3h0M1627.5 2742.5h0M1653.9 2704.4h0M1680.3 2744.2h0M1706.8 2754.4h0M1733.2 2762.0h0M1759.6 2768.8h0M1786.0 2769.6h0M1812.4 2767.1h0M1838.9 2726.4h0M1865.3 2755.2h0" stroke="#76B09A" stroke-width="6.9" stroke-linecap="round" fill="none"/>
<rect x="1278.8" y="2473.0" width="378.4" height="28.8" fill="#FFD92F"/>
<text x="1330.5" y="2479.0" font-size="28.8" font-weight="normal" fill="#252423" textLength="270.2" lengthAdjust="spacingAndGlyphs">RAIN (MM) PER DAY</text>
<line x1="1982.6" y1="2518.4" x2="2819.5" y2="2518.4" class="g"/>
<text x="1961.0" y="2527.4" font-size="25.5" font-weight="normal" fill="#605E5C" text-anchor="end">30</text>
<line x1="1982.6" y1="2648.3" x2="2819.5" y2="2648.3" class="g"/>
<text x="1961.0" y="2657.3" font-size="25.5" font-weight="normal" fill="#605E5C" text-anchor="end">20</text>
<line x1="1982.6" y1="2778.2" x2="2819.5" y2="2778.2" class="g"/>
<text x="1961.0" y="2787.2" font-size="25.5" font-weight="normal" fill="#605E5C" text-anchor="end">10</text>
<text x="2245.0" y="2812.8" font-size="25.5" font-weight="normal" fill="#605E5C" text-anchor="middle">10</text>
<text x="2511.5" y="2812.8" font-size="25.5" font-weight="normal" fill="#605E5C" text-anchor="middle">20</text>
<text x="2778.0" y="2812.8" font-size="25.5" font-weight="normal" fill="#605E5C" text-anchor="middle">30</text>
<polyline fill="none" stroke="#FFE25E" stroke-width="4.4" stroke-linejoin="round" stroke-linecap="round" points="2004.5,2680.9 2031.2,2666.5 2057.8,2668.2 2084.4,2687.1 2111.1,2704.5 2137.8,2694.0 2164.4,2680.9 2191.1,2665.7 2217.7,2658.8 2244.3,2640.0 2271.0,2619.9 2297.7,2614.1 2324.3,2617.4 2350.9,2671.2 2377.6,2678.7 2404.2,2688.3 2430.9,2702.1 2457.6,2688.6 2484.2,2692.2 2510.8,2707.0 2537.5,2710.4 2564.2,2683.0"/>
<path d="M2004.5 2680.9h0M2031.2 2666.5h0M2057.8 2668.2h0M2084.4 2687.1h0M2111.1 2704.5h0M2137.8 2694.0h0M2164.4 2680.9h0M2191.1 2665.7h0M2217.7 2658.8h0M2244.3 2640.0h0M2271.0 2619.9h0M2297.7 2614.1h0M2324.3 2617.4h0M2350.9 2671.2h0M2377.6 2678.7h0M2404.2 2688.3h0M2430.9 2702.1h0M2457.6 2688.6h0M2484.2 2692.2h0M2510.8 2707.0h0M2537.5 2710.4h0M2564.2 2683.0h0" stroke="#FFE25E" stroke-width="6.9" stroke-linecap="round" fill="none"/>
<polyline fill="none" stroke="#FFD92F" stroke-width="4.4" stroke-linejoin="round" stroke-linecap="round" points="2004.5,2740.1 2031.2,2730.0 2057.8,2730.0 2084.4,2732.1 2111.1,2718.6 2137.8,2700.9 2164.4,2704.3 2191.1,2688.3 2217.7,2668.7 2244.3,2660.8 2271.0,2643.6 2297.7,2619.1 2324.3,2637.0 2350.9,2680.9 2377.6,2677.3 2404.2,2654.7 2430.9,2611.3 2457.6,2570.7 2484.2,2648.6 2510.8,2687.8 2537.5,2694.7 2564.2,2698.8 2590.8,2693.5 2617.4,2668.7 2644.1,2690.8 2670.8,2696.9 2697.4,2708.7 2724.1,2689.1 2750.7,2673.6 2777.3,2680.5 2804.0,2678.0"/>
<path d="M2004.5 2740.1h0M2031.2 2730.0h0M2057.8 2730.0h0M2084.4 2732.1h0M2111.1 2718.6h0M2137.8 2700.9h0M2164.4 2704.3h0M2191.1 2688.3h0M2217.7 2668.7h0M2244.3 2660.8h0M2271.0 2643.6h0M2297.7 2619.1h0M2324.3 2637.0h0M2350.9 2680.9h0M2377.6 2677.3h0M2404.2 2654.7h0M2430.9 2611.3h0M2457.6 2570.7h0M2484.2 2648.6h0M2510.8 2687.8h0M2537.5 2694.7h0M2564.2 2698.8h0M2590.8 2693.5h0M2617.4 2668.7h0M2644.1 2690.8h0M2670.8 2696.9h0M2697.4 2708.7h0M2724.1 2689.1h0M2750.7 2673.6h0M2777.3 2680.5h0M2804.0 2678.0h0" stroke="#FFD92F" stroke-width="6.9" stroke-linecap="round" fill="none"/>
<polyline fill="none" stroke="#76B09A" stroke-width="4.4" stroke-linejoin="round" stroke-linecap="round" points="2004.5,2750.0 2031.2,2714.8 2057.8,2710.4 2084.4,2709.5 2111.1,2730.3 2137.8,2737.4 2164.4,2723.4 2191.1,2723.4 2217.7,2717.8 2244.3,2712.3 2271.0,2720.5 2297.7,2726.6 2324.3,2729.1 2350.9,2708.7 2377.6,2687.1 2404.2,2674.8 2430.9,2626.0 2457.6,2662.1 2484.2,2738.2 2510.8,2708.7 2537.5,2703.2 2564.2,2702.6 2590.8,2705.7 2617.4,2720.3 2644.1,2740.1 2670.8,2735.7 2697.4,2740.7 2724.1,2729.6 2750.7,2734.9 2777.3,2751.2"/>
<path d="M2004.5 2750.0h0M2031.2 2714.8h0M2057.8 2710.4h0M2084.4 2709.5h0M2111.1 2730.3h0M2137.8 2737.4h0M2164.4 2723.4h0M2191.1 2723.4h0M2217.7 2717.8h0M2244.3 2712.3h0M2271.0 2720.5h0M2297.7 2726.6h0M2324.3 2729.1h0M2350.9 2708.7h0M2377.6 2687.1h0M2404.2 2674.8h0M2430.9 2626.0h0M2457.6 2662.1h0M2484.2 2738.2h0M2510.8 2708.7h0M2537.5 2703.2h0M2564.2 2702.6h0M2590.8 2705.7h0M2617.4 2720.3h0M2644.1 2740.1h0M2670.8 2735.7h0M2697.4 2740.7h0M2724.1 2729.6h0M2750.7 2734.9h0M2777.3 2751.2h0" stroke="#76B09A" stroke-width="6.9" stroke-linecap="round" fill="none"/>
<rect x="2193.6" y="2473.0" width="378.4" height="28.8" fill="#FFD92F"/>
<text x="2192.1" y="2479.0" font-size="28.8" font-weight="normal" fill="#252423" textLength="373.2" lengthAdjust="spacingAndGlyphs">TEMPERATURE (C°) PER DAY</text>
<line x1="1086.3" y1="2956.8" x2="1917.4" y2="2956.8" class="g"/>
<text x="1064.6" y="2966.3" font-size="25.5" font-weight="normal" fill="#605E5C" text-anchor="end">500</text>
<line x1="1086.3" y1="3173.0" x2="1917.4" y2="3173.0" class="g"/>
<text x="1064.6" y="3182.5" font-size="25.5" font-weight="normal" fill="#605E5C" text-anchor="end">0</text>
<rect x="1178.2" y="2931.7" width="173.5" height="241.3" fill="#76B09A"/>
<rect x="1408.2" y="3158.1" width="173.5" height="14.9" fill="#FFD92F"/>
<rect x="1637.6" y="3164.2" width="173.6" height="8.8" fill="#FFE25E"/>
<text x="1265.4" y="2974.0" font-size="25.5" font-weight="normal" fill="#fff" text-anchor="middle">558</text>
<text x="1494.9" y="3140.9" font-size="25.5" font-weight="normal" fill="#605E5C" text-anchor="middle">34</text>
<text x="1724.7" y="3147.0" font-size="25.5" font-weight="normal" fill="#605E5C" text-anchor="middle">20</text>
<text x="1269.0" y="3207.6" font-size="25.5" font-weight="normal" fill="#605E5C" text-anchor="middle" textLength="54.0" lengthAdjust="spacingAndGlyphs">JUIN</text>
<text x="1499.5" y="3207.6" font-size="25.5" font-weight="normal" fill="#605E5C" text-anchor="middle" textLength="53.0" lengthAdjust="spacingAndGlyphs">JUIL.</text>
<text x="1729.3" y="3207.6" font-size="25.5" font-weight="normal" fill="#605E5C" text-anchor="middle" textLength="68.0" lengthAdjust="spacingAndGlyphs">AOÛT</text>
<rect x="1153.0" y="2865.9" width="631.0" height="28.8" fill="#FFD92F"/>
<text x="1186.1" y="2875.2" font-size="28.8" font-weight="normal" fill="#252423" textLength="561.1" lengthAdjust="spacingAndGlyphs">RAIN (MM) ACCUMULATION PER MONTH</text>
<line x1="2013.4" y1="2999.9" x2="2819.5" y2="2999.9" class="g"/>
<text x="1991.8" y="3009.4" font-size="25.5" font-weight="normal" fill="#605E5C" text-anchor="end">0.1M</text>
<line x1="2013.4" y1="3173.0" x2="2819.5" y2="3173.0" class="g"/>
<text x="1991.8" y="3182.5" font-size="25.5" font-weight="normal" fill="#605E5C" text-anchor="end">0.0M</text>
<rect x="2103.8" y="2992.2" width="170.4" height="180.8" fill="#76B09A"/>
<rect x="2328.7" y="3005.6" width="171.4" height="167.4" fill="#FFD92F"/>
<rect x="2555.1" y="3051.8" width="169.9" height="121.2" fill="#FFE25E"/>
<text x="2189.5" y="2975.6" font-size="25.5" font-weight="normal" fill="#605E5C" text-anchor="middle">104,427</text>
<text x="2414.7" y="2988.4" font-size="25.5" font-weight="normal" fill="#605E5C" text-anchor="middle">96,748</text>
<text x="2640.0" y="3034.6" font-size="25.5" font-weight="normal" fill="#605E5C" text-anchor="middle">70,025</text>
<text x="2193.0" y="3207.6" font-size="25.5" font-weight="normal" fill="#605E5C" text-anchor="middle" textLength="54.0" lengthAdjust="spacingAndGlyphs">JUIN</text>
<text x="2419.0" y="3207.6" font-size="25.5" font-weight="normal" fill="#605E5C" text-anchor="middle" textLength="53.0" lengthAdjust="spacingAndGlyphs">JUIL.</text>
<text x="2644.5" y="3207.6" font-size="25.5" font-weight="normal" fill="#605E5C" text-anchor="middle" textLength="68.0" lengthAdjust="spacingAndGlyphs">AOÛT</text>
<rect x="2066.8" y="2865.9" width="632.0" height="28.8" fill="#FFD92F"/>
<text x="2075.5" y="2875.2" font-size="28.8" font-weight="normal" fill="#252423" textLength="608.6" lengthAdjust="spacingAndGlyphs">WIND (KNOTS) ACCUMULATION PER MONTH</text>
</svg>
</body></html>
